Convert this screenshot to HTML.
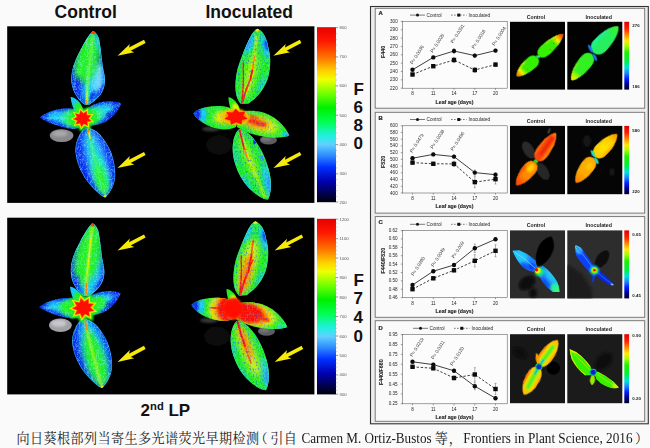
<!DOCTYPE html>
<html><head><meta charset="utf-8"><title>figure</title>
<style>html,body{margin:0;padding:0;background:#fafafa;overflow:hidden}svg{display:block}text{font-family:"Liberation Sans",sans-serif}.sf text{font-family:"Liberation Serif",serif}</style>
</head><body>
<svg width="650" height="448" viewBox="0 0 650 448">
<defs>
<linearGradient id="jet" x1="0" y1="0" x2="0" y2="1"><stop offset="0" stop-color="#e80000"/><stop offset="0.08" stop-color="#ff1800"/><stop offset="0.17" stop-color="#ff7000"/><stop offset="0.25" stop-color="#ffd000"/><stop offset="0.3" stop-color="#f0ff00"/><stop offset="0.38" stop-color="#70ff00"/><stop offset="0.46" stop-color="#00f000"/><stop offset="0.54" stop-color="#00ff50"/><stop offset="0.62" stop-color="#20f0e0"/><stop offset="0.67" stop-color="#60d0ff"/><stop offset="0.73" stop-color="#3090ff"/><stop offset="0.8" stop-color="#0030ff"/><stop offset="0.88" stop-color="#0000b0"/><stop offset="0.95" stop-color="#000050"/><stop offset="1" stop-color="#000008"/></linearGradient>
<linearGradient id="jet2" x1="0" y1="0" x2="0" y2="1"><stop offset="0" stop-color="#e00000"/><stop offset="0.1" stop-color="#ff2000"/><stop offset="0.2" stop-color="#ff9000"/><stop offset="0.28" stop-color="#ffe800"/><stop offset="0.36" stop-color="#a0ff00"/><stop offset="0.45" stop-color="#20f000"/><stop offset="0.58" stop-color="#00f040"/><stop offset="0.68" stop-color="#00e0e0"/><stop offset="0.76" stop-color="#2080ff"/><stop offset="0.84" stop-color="#0020ff"/><stop offset="0.92" stop-color="#000090"/><stop offset="1" stop-color="#000020"/></linearGradient>
<filter id="b1" x="-20%" y="-20%" width="140%" height="140%"><feGaussianBlur stdDeviation="1"/></filter>
<filter id="b2" x="-30%" y="-30%" width="160%" height="160%"><feGaussianBlur stdDeviation="2"/></filter>
<filter id="b3" x="-30%" y="-30%" width="160%" height="160%"><feGaussianBlur stdDeviation="3"/></filter>
<filter id="b4" x="-40%" y="-40%" width="180%" height="180%"><feGaussianBlur stdDeviation="4.5"/></filter>
<filter id="b05" x="-20%" y="-20%" width="140%" height="140%"><feGaussianBlur stdDeviation="0.5"/></filter>
<filter id="b07" x="-20%" y="-20%" width="140%" height="140%"><feGaussianBlur stdDeviation="0.7"/></filter>
<filter id="tex" x="0" y="0" width="100%" height="100%" color-interpolation-filters="sRGB"><feTurbulence type="turbulence" baseFrequency="0.42 0.3" numOctaves="2" seed="4"/><feColorMatrix type="matrix" values="0 0 0 0 0.6  0 0 0 0 0.95  0 0 0 0 1  -4.2 0 0 0 1.0"/></filter>
<filter id="tex2" x="0" y="0" width="100%" height="100%" color-interpolation-filters="sRGB"><feTurbulence type="fractalNoise" baseFrequency="0.6 0.45" numOctaves="2" seed="11"/><feColorMatrix type="matrix" values="0 0 0 0 0.1  0 0 0 0 0.35  0 0 0 0 1  0 3.4 0 0 -1.75"/></filter>
<clipPath id="cp1"><path d="M92.8 31C95 31.4 97.6 34.5 98.9 38.5C100.5 46 101.5 56 102.6 65C103.6 72 105.3 76 105 81C104.7 88 102 93.5 98 97.5C95 100.5 92 102.8 89.5 104.5L84.5 104.5C80.5 102 76.5 97 74 91.5C71.4 86 70.6 80 71.9 72C73.4 64 77 56 81 49C84.5 42.5 88.5 35 92.8 31Z"/></clipPath>
<clipPath id="cp2"><path d="M87.5 127.5C91 128.2 95 130 98.5 133C103 137.5 108 145 111 152C114 160 115.5 168 115.2 176C114.8 184 111 192 105.4 197.4C103.4 197.6 100 194.5 96 191C90 185.5 84.5 178.5 81 171C77 163 75 154 75.6 147C76.2 141 79 134.5 82.5 130.5C84 128.8 85.8 127.6 87.5 127.5Z"/></clipPath>
<clipPath id="cp3"><path d="M39.6 117.6C43 114.5 49 111.6 56 109.8C63 108 71 107.6 78 110L82 126C78 129.5 71 129.6 64 127.6C55 125.3 46 121.8 39.6 117.6Z"/></clipPath>
<clipPath id="cp4"><path d="M121.2 103.6C117 101 110 100.6 103 101.8C96 103 89 106.5 84 111L85 125C90 126.6 97 125.5 104 122.6C111 119.5 118 112 121.2 103.6Z"/></clipPath>
<clipPath id="cp5"><path d="M70.6 97C73 96.5 77 99 80 103C82 106 83.5 110 84 114L76 114C73.5 109 71 103 70.6 97Z"/></clipPath>
<clipPath id="cp6"><path d="M257.4 28.8C260 29.6 262.5 32 264.2 35C266.5 39.5 267.6 43 268.2 47C269.4 52 270.3 56 270.2 61C270.2 67 269.6 71 268.6 75.5C267.4 81 264.5 87 260 93C256.5 97.5 252 101 248.5 103.5L241 104C238.5 101.5 236.8 98 236 93.5C235 88 235.4 80 236.6 73.5C237.8 67 239.8 61.5 242 56C244.5 49.5 247.5 42.5 250.8 36C252.6 32.6 255 29.6 257.4 28.8Z"/></clipPath>
<clipPath id="cp7"><path d="M239.3 129C243 129.6 246.5 131.5 250 134.8C254 138.6 257.5 143.5 260.6 149C264 155 266.6 162 268.6 169C270.4 175.5 271.2 182 270.8 188C270.4 193 269.4 197 268 199.6C264.5 199.8 260.5 197.6 256.5 194.6C251.5 191 246.5 186 242.6 180C238.6 174 235.8 167 234 160C232.4 153.5 232.2 146.5 233.4 140.5C234.4 136 236.4 131 239.3 129Z"/></clipPath>
<clipPath id="cp8"><path d="M193.4 113.4C196 110.2 201 108.3 207 107C214 105.6 222 105.6 229 107.4L236.5 112L236 127C231 129.8 224 130 217 128.4C208 126.5 198.5 121.5 193.4 113.4Z"/></clipPath>
<clipPath id="cp9"><path d="M289.4 135.8C287.5 131 284 126 279 121.5C273 116 266 112.6 259 111.4C252 110.4 245 110.6 240 112L237 127C242 130.5 250 133.6 258 135.6C268 138 280 138.6 289.4 135.8Z"/></clipPath>
<clipPath id="cp10"><path d="M228.4 97.2C231 97 235 100 237.5 104C239.5 107 240 110 240 113L232 113C230 108 228.5 102 228.4 97.2Z"/></clipPath>
<clipPath id="cp11"><path d="M92.8 31C95 31.4 97.6 34.5 98.9 38.5C100.5 46 101.5 56 102.6 65C103.6 72 105.3 76 105 81C104.7 88 102 93.5 98 97.5C95 100.5 92 102.8 89.5 104.5L84.5 104.5C80.5 102 76.5 97 74 91.5C71.4 86 70.6 80 71.9 72C73.4 64 77 56 81 49C84.5 42.5 88.5 35 92.8 31Z"/></clipPath>
<clipPath id="cp12"><path d="M87.5 127.5C91 128.2 95 130 98.5 133C103 137.5 108 145 111 152C114 160 115.5 168 115.2 176C114.8 184 111 192 105.4 197.4C103.4 197.6 100 194.5 96 191C90 185.5 84.5 178.5 81 171C77 163 75 154 75.6 147C76.2 141 79 134.5 82.5 130.5C84 128.8 85.8 127.6 87.5 127.5Z"/></clipPath>
<clipPath id="cp13"><path d="M39.6 117.6C43 114.5 49 111.6 56 109.8C63 108 71 107.6 78 110L82 126C78 129.5 71 129.6 64 127.6C55 125.3 46 121.8 39.6 117.6Z"/></clipPath>
<clipPath id="cp14"><path d="M121.2 103.6C117 101 110 100.6 103 101.8C96 103 89 106.5 84 111L85 125C90 126.6 97 125.5 104 122.6C111 119.5 118 112 121.2 103.6Z"/></clipPath>
<clipPath id="cp15"><path d="M70.6 97C73 96.5 77 99 80 103C82 106 83.5 110 84 114L76 114C73.5 109 71 103 70.6 97Z"/></clipPath>
<clipPath id="cp16"><path d="M257.4 28.8C260 29.6 262.5 32 264.2 35C266.5 39.5 267.6 43 268.2 47C269.4 52 270.3 56 270.2 61C270.2 67 269.6 71 268.6 75.5C267.4 81 264.5 87 260 93C256.5 97.5 252 101 248.5 103.5L241 104C238.5 101.5 236.8 98 236 93.5C235 88 235.4 80 236.6 73.5C237.8 67 239.8 61.5 242 56C244.5 49.5 247.5 42.5 250.8 36C252.6 32.6 255 29.6 257.4 28.8Z"/></clipPath>
<clipPath id="cp17"><path d="M239.3 129C243 129.6 246.5 131.5 250 134.8C254 138.6 257.5 143.5 260.6 149C264 155 266.6 162 268.6 169C270.4 175.5 271.2 182 270.8 188C270.4 193 269.4 197 268 199.6C264.5 199.8 260.5 197.6 256.5 194.6C251.5 191 246.5 186 242.6 180C238.6 174 235.8 167 234 160C232.4 153.5 232.2 146.5 233.4 140.5C234.4 136 236.4 131 239.3 129Z"/></clipPath>
<clipPath id="cp18"><path d="M193.4 113.4C196 110.2 201 108.3 207 107C214 105.6 222 105.6 229 107.4L236.5 112L236 127C231 129.8 224 130 217 128.4C208 126.5 198.5 121.5 193.4 113.4Z"/></clipPath>
<clipPath id="cp19"><path d="M289.4 135.8C287.5 131 284 126 279 121.5C273 116 266 112.6 259 111.4C252 110.4 245 110.6 240 112L237 127C242 130.5 250 133.6 258 135.6C268 138 280 138.6 289.4 135.8Z"/></clipPath>
<clipPath id="cp20"><path d="M228.4 97.2C231 97 235 100 237.5 104C239.5 107 240 110 240 113L232 113C230 108 228.5 102 228.4 97.2Z"/></clipPath>
<linearGradient id="lg21" gradientUnits="userSpaceOnUse" x1="19.9709" y1="0" x2="33.2848" y2="0"><stop offset="0" stop-color="#f4f000" stop-opacity="0"/><stop offset="0.35" stop-color="#f4f000" stop-opacity="1"/><stop offset="0.65" stop-color="#ff8000" stop-opacity="1"/><stop offset="1" stop-color="#ff1000" stop-opacity="1"/></linearGradient>
<clipPath id="cp22"><path d="M0 0C0.67 4.43 4.49 5.90 9.99 5.90C21.64 5.90 30.95 2.66 33.28 0.00C30.95 -2.66 21.64 -5.90 9.99 -5.90C4.49 -5.90 0.67 -4.43 0 0Z"/></clipPath>
<linearGradient id="lg23" gradientUnits="userSpaceOnUse" x1="17.4752" y1="0" x2="28.1858" y2="0"><stop offset="0" stop-color="#f4f000" stop-opacity="0"/><stop offset="0.4" stop-color="#f4f000" stop-opacity="1"/><stop offset="0.8" stop-color="#ff8000" stop-opacity="1"/><stop offset="1" stop-color="#ff5000" stop-opacity="1"/></linearGradient>
<clipPath id="cp24"><path d="M0 0C0.56 4.72 3.81 6.30 8.46 6.30C18.32 6.30 26.21 3.15 28.19 0.00C26.21 -3.15 18.32 -6.30 8.46 -6.30C3.81 -6.30 0.56 -4.72 0 0Z"/></clipPath>
<clipPath id="bx25"><rect x="510" y="21.8" width="55" height="67.8"/></clipPath>
<linearGradient id="lg26" gradientUnits="userSpaceOnUse" x1="23.539" y1="0" x2="36.2138" y2="0"><stop offset="0" stop-color="#34f000" stop-opacity="0"/><stop offset="1" stop-color="#48f030" stop-opacity="0.9"/></linearGradient>
<clipPath id="cp27"><path d="M0 0C0.72 6.40 5.21 8.00 11.59 8.00C23.90 8.00 33.68 4.00 36.21 0.00C33.68 -4.00 23.90 -8.00 11.59 -8.00C5.21 -8.00 0.72 -6.40 0 0Z"/></clipPath>
<linearGradient id="lg28" gradientUnits="userSpaceOnUse" x1="22.5797" y1="0" x2="33.2054" y2="0"><stop offset="0" stop-color="#f4f000" stop-opacity="0"/><stop offset="0.6" stop-color="#c8f400" stop-opacity="1"/><stop offset="1" stop-color="#f4f000" stop-opacity="1"/></linearGradient>
<clipPath id="cp29"><path d="M0 0C0.66 5.52 4.78 6.90 10.63 6.90C21.92 6.90 30.88 3.45 33.21 0.00C30.88 -3.45 21.92 -6.90 10.63 -6.90C4.78 -6.90 0.66 -5.52 0 0Z"/></clipPath>
<clipPath id="cp30"><path d="M0 0C0.20 0.00 2.29 1.50 5.10 1.50C7.65 1.50 9.49 0.52 10.20 0.00C9.49 -0.52 7.65 -1.50 5.10 -1.50C2.29 -1.50 0.20 -0.00 0 0Z"/></clipPath>
<clipPath id="cp31"><path d="M0 0C0.18 0.00 2.03 1.50 4.52 1.50C6.78 1.50 8.40 0.52 9.04 0.00C8.40 -0.52 6.78 -1.50 4.52 -1.50C2.03 -1.50 0.18 -0.00 0 0Z"/></clipPath>
<clipPath id="bx32"><rect x="567.3" y="21.8" width="55" height="67.8"/></clipPath>
<linearGradient id="lg33" gradientUnits="userSpaceOnUse" x1="27.6635" y1="0" x2="33.736" y2="0"><stop offset="0" stop-color="#ff8000" stop-opacity="0"/><stop offset="1" stop-color="#ffa000" stop-opacity="1"/></linearGradient>
<clipPath id="cp34"><path d="M0 0C0.67 5.20 5.47 6.50 12.14 6.50C22.94 6.50 31.37 3.58 33.74 0.00C31.37 -3.58 22.94 -6.50 12.14 -6.50C5.47 -6.50 0.67 -5.20 0 0Z"/></clipPath>
<linearGradient id="lg35" gradientUnits="userSpaceOnUse" x1="17.8997" y1="0" x2="29.8329" y2="0"><stop offset="0" stop-color="#ff1000" stop-opacity="0"/><stop offset="1" stop-color="#ff4000" stop-opacity="0.9"/></linearGradient>
<clipPath id="cp36"><path d="M0 0C0.60 5.10 4.30 6.80 9.55 6.80C19.69 6.80 27.74 3.40 29.83 0.00C27.74 -3.40 19.69 -6.80 9.55 -6.80C4.30 -6.80 0.60 -5.10 0 0Z"/></clipPath>
<clipPath id="bx37"><rect x="510" y="125.9" width="55" height="68.3"/></clipPath>
<linearGradient id="lg38" gradientUnits="userSpaceOnUse" x1="22.0761" y1="0" x2="31.5373" y2="0"><stop offset="0" stop-color="#ff8000" stop-opacity="0"/><stop offset="1" stop-color="#ff9800" stop-opacity="1"/></linearGradient>
<clipPath id="cp39"><path d="M0 0C0.63 5.60 4.68 7.00 10.41 7.00C20.97 7.00 29.33 3.50 31.54 0.00C29.33 -3.50 20.97 -7.00 10.41 -7.00C4.68 -7.00 0.63 -5.60 0 0Z"/></clipPath>
<linearGradient id="lg40" gradientUnits="userSpaceOnUse" x1="18.2187" y1="0" x2="30.3645" y2="0"><stop offset="0" stop-color="#ff8000" stop-opacity="0"/><stop offset="1" stop-color="#ff7800" stop-opacity="1"/></linearGradient>
<clipPath id="cp41"><path d="M0 0C0.61 5.52 4.51 6.90 10.02 6.90C20.19 6.90 28.24 3.45 30.36 0.00C28.24 -3.45 20.19 -6.90 10.02 -6.90C4.51 -6.90 0.61 -5.52 0 0Z"/></clipPath>
<clipPath id="cp42"><path d="M0 0C0.17 0.00 1.87 1.60 4.16 1.60C6.24 1.60 7.74 0.56 8.32 0.00C7.74 -0.56 6.24 -1.60 4.16 -1.60C1.87 -1.60 0.17 -0.00 0 0Z"/></clipPath>
<clipPath id="cp43"><path d="M0 0C0.16 0.00 1.85 1.60 4.12 1.60C6.18 1.60 7.66 0.56 8.24 0.00C7.66 -0.56 6.18 -1.60 4.12 -1.60C1.85 -1.60 0.16 -0.00 0 0Z"/></clipPath>
<clipPath id="bx44"><rect x="567.3" y="125.9" width="55" height="68.3"/></clipPath>
<clipPath id="cp45"><path d="M0 0C0.65 3.04 8.04 7.60 17.87 7.60C25.18 7.60 30.22 3.80 32.49 0.00C30.22 -3.80 25.18 -7.60 17.87 -7.60C8.04 -7.60 0.65 -3.04 0 0Z"/></clipPath>
<clipPath id="cp46"><path d="M512.3 250.4L519.5 250.2Q528 253.5 535.6 260.5L537.4 268L534.3 271.6Q529 272.6 522.2 266.6Q516.5 260.5 512.3 250.4Z"/></clipPath>
<clipPath id="cp47"><path d="M536.6 269L542.7 265.5Q551 271.5 557.2 281.7Q559.4 286 559.7 291.9L552.6 291.9Q545.5 287.5 539.4 277.1Z"/></clipPath>
<clipPath id="bx48"><rect x="510" y="230.4" width="55" height="68"/></clipPath>
<clipPath id="cp49"><path d="M0 0C0.42 2.16 4.76 5.40 10.57 5.40C15.85 5.40 19.66 3.24 21.14 0.00C19.66 -3.24 15.85 -5.40 10.57 -5.40C4.76 -5.40 0.42 -2.16 0 0Z"/></clipPath>
<clipPath id="cp50"><path d="M575.3 245L580.7 247.2Q587 254.5 593.2 265L594.6 270.3L590 272.2Q582 265.5 576 255.8Q574.8 250 575.3 245Z"/></clipPath>
<clipPath id="cp51"><path d="M594.6 270L599.7 270.5Q608 276.5 615.2 285.7Q609 285.7 605 282.8Q600 279.2 596.4 275.2Z"/></clipPath>
<clipPath id="cp52"><path d="M0 0C0.25 0.00 2.25 1.40 5.00 1.40C8.75 1.40 11.63 0.49 12.50 0.00C11.63 -0.49 8.75 -1.40 5.00 -1.40C2.25 -1.40 0.25 -0.00 0 0Z"/></clipPath>
<clipPath id="bx53"><rect x="567.3" y="230.4" width="55" height="68"/></clipPath>
<clipPath id="cp54"><path d="M0 0C0.64 5.10 5.75 6.80 12.79 6.80C22.38 6.80 29.73 3.74 31.97 0.00C29.73 -3.74 22.38 -6.80 12.79 -6.80C5.75 -6.80 0.64 -5.10 0 0Z"/></clipPath>
<clipPath id="cp55"><path d="M0 0C0.62 5.40 5.57 7.20 12.38 7.20C21.67 7.20 28.79 3.96 30.95 0.00C28.79 -3.96 21.67 -7.20 12.38 -7.20C5.57 -7.20 0.62 -5.40 0 0Z"/></clipPath>
<clipPath id="cp56"><path d="M0 0C0.25 0.00 2.79 1.80 6.20 1.80C9.30 1.80 11.53 0.63 12.40 0.00C11.53 -0.63 9.30 -1.80 6.20 -1.80C2.79 -1.80 0.25 -0.00 0 0Z"/></clipPath>
<clipPath id="bx57"><rect x="510" y="334.2" width="55" height="69"/></clipPath>
<clipPath id="cp58"><path d="M0 0C0.47 0.00 5.25 7.00 11.67 7.00C17.50 7.00 21.70 4.20 23.33 0.00C21.70 -4.20 17.50 -7.00 11.67 -7.00C5.25 -7.00 0.47 -0.00 0 0Z"/></clipPath>
<clipPath id="cp59"><path d="M569.6 349L576.1 351.9Q584 357.4 590.6 366.4L593.2 372L589.8 375.5L585.2 375.5Q577 369.6 571.5 359.1Q569.9 354 569.6 349Z"/></clipPath>
<clipPath id="cp60"><path d="M593.6 372.4L597.4 371.5Q607 376 614.2 382.3L619 387.5Q615 388.8 611.1 388.3Q602.5 386.2 596.4 379.6Z"/></clipPath>
<clipPath id="cp61"><path d="M0 0C0.22 0.00 2.78 2.40 6.18 2.40C8.71 2.40 10.46 0.84 11.24 0.00C10.46 -0.84 8.71 -2.40 6.18 -2.40C2.78 -2.40 0.22 -0.00 0 0Z"/></clipPath>
<clipPath id="bx62"><rect x="567.3" y="334.2" width="55" height="69"/></clipPath>
</defs>
<rect x="0" y="0" width="650" height="448" fill="#fafafa"/>
<g font-family="Liberation Sans" font-weight="bold" fill="#111">
<text x="85.7" y="17.9" font-size="17.5" text-anchor="middle">Control</text>
<text x="249.2" y="17.9" font-size="17.5" text-anchor="middle">Inoculated</text>
<text x="140.6" y="416.2" font-size="17">2<tspan font-size="11.2" dy="-6">nd</tspan><tspan dy="6"> LP</tspan></text>
<text x="353.6" y="95" font-size="17">F</text>
<text x="353.6" y="113" font-size="17">6</text>
<text x="353.6" y="131" font-size="17">8</text>
<text x="353.6" y="149" font-size="17">0</text>
<text x="353.6" y="285.7" font-size="17">F</text>
<text x="353.6" y="304.3" font-size="17">7</text>
<text x="353.6" y="322.9" font-size="17">4</text>
<text x="353.6" y="341.5" font-size="17">0</text>
</g>
<rect x="7.2" y="26.3" width="307.2" height="176.6" fill="#000"/>
<rect x="7.2" y="217.7" width="307.2" height="176.7" fill="#000"/>
<rect x="317" y="27.2" width="19" height="175" fill="url(#jet)"/>
<g font-family="Liberation Sans" font-size="4.2" fill="#555" opacity="0.995">
<line x1="335.5" y1="27.6" x2="338.2" y2="27.6" stroke="#555" stroke-width="0.6"/>
<text x="339.6" y="29.1">800</text>
<line x1="335.5" y1="56.9" x2="338.2" y2="56.9" stroke="#555" stroke-width="0.6"/>
<text x="339.6" y="58.4">700</text>
<line x1="335.5" y1="85.9" x2="338.2" y2="85.9" stroke="#555" stroke-width="0.6"/>
<text x="339.6" y="87.4">600</text>
<line x1="335.5" y1="115.2" x2="338.2" y2="115.2" stroke="#555" stroke-width="0.6"/>
<text x="339.6" y="116.7">500</text>
<line x1="335.5" y1="144.6" x2="338.2" y2="144.6" stroke="#555" stroke-width="0.6"/>
<text x="339.6" y="146.1">400</text>
<line x1="335.5" y1="173.8" x2="338.2" y2="173.8" stroke="#555" stroke-width="0.6"/>
<text x="339.6" y="175.3">300</text>
<line x1="335.5" y1="202" x2="338.2" y2="202" stroke="#555" stroke-width="0.6"/>
<text x="339.6" y="203.5">200</text>
<line x1="335.5" y1="33.46" x2="337.2" y2="33.46" stroke="#888" stroke-width="0.4"/>
<line x1="335.5" y1="39.32" x2="337.2" y2="39.32" stroke="#888" stroke-width="0.4"/>
<line x1="335.5" y1="45.18" x2="337.2" y2="45.18" stroke="#888" stroke-width="0.4"/>
<line x1="335.5" y1="51.04" x2="337.2" y2="51.04" stroke="#888" stroke-width="0.4"/>
<line x1="335.5" y1="62.7" x2="337.2" y2="62.7" stroke="#888" stroke-width="0.4"/>
<line x1="335.5" y1="68.5" x2="337.2" y2="68.5" stroke="#888" stroke-width="0.4"/>
<line x1="335.5" y1="74.3" x2="337.2" y2="74.3" stroke="#888" stroke-width="0.4"/>
<line x1="335.5" y1="80.1" x2="337.2" y2="80.1" stroke="#888" stroke-width="0.4"/>
<line x1="335.5" y1="91.76" x2="337.2" y2="91.76" stroke="#888" stroke-width="0.4"/>
<line x1="335.5" y1="97.62" x2="337.2" y2="97.62" stroke="#888" stroke-width="0.4"/>
<line x1="335.5" y1="103.48" x2="337.2" y2="103.48" stroke="#888" stroke-width="0.4"/>
<line x1="335.5" y1="109.34" x2="337.2" y2="109.34" stroke="#888" stroke-width="0.4"/>
<line x1="335.5" y1="121.08" x2="337.2" y2="121.08" stroke="#888" stroke-width="0.4"/>
<line x1="335.5" y1="126.96" x2="337.2" y2="126.96" stroke="#888" stroke-width="0.4"/>
<line x1="335.5" y1="132.84" x2="337.2" y2="132.84" stroke="#888" stroke-width="0.4"/>
<line x1="335.5" y1="138.72" x2="337.2" y2="138.72" stroke="#888" stroke-width="0.4"/>
<line x1="335.5" y1="150.44" x2="337.2" y2="150.44" stroke="#888" stroke-width="0.4"/>
<line x1="335.5" y1="156.28" x2="337.2" y2="156.28" stroke="#888" stroke-width="0.4"/>
<line x1="335.5" y1="162.12" x2="337.2" y2="162.12" stroke="#888" stroke-width="0.4"/>
<line x1="335.5" y1="167.96" x2="337.2" y2="167.96" stroke="#888" stroke-width="0.4"/>
<line x1="335.5" y1="179.44" x2="337.2" y2="179.44" stroke="#888" stroke-width="0.4"/>
<line x1="335.5" y1="185.08" x2="337.2" y2="185.08" stroke="#888" stroke-width="0.4"/>
<line x1="335.5" y1="190.72" x2="337.2" y2="190.72" stroke="#888" stroke-width="0.4"/>
<line x1="335.5" y1="196.36" x2="337.2" y2="196.36" stroke="#888" stroke-width="0.4"/>
</g>
<rect x="317" y="218.8" width="19" height="175.6" fill="url(#jet)"/>
<g font-family="Liberation Sans" font-size="4.2" fill="#555" opacity="0.995">
<line x1="335.5" y1="219.2" x2="338.2" y2="219.2" stroke="#555" stroke-width="0.6"/>
<text x="339.6" y="220.7">1200</text>
<line x1="335.5" y1="238.7" x2="338.2" y2="238.7" stroke="#555" stroke-width="0.6"/>
<text x="339.6" y="240.2">1100</text>
<line x1="335.5" y1="258.1" x2="338.2" y2="258.1" stroke="#555" stroke-width="0.6"/>
<text x="339.6" y="259.6">1000</text>
<line x1="335.5" y1="277.6" x2="338.2" y2="277.6" stroke="#555" stroke-width="0.6"/>
<text x="339.6" y="279.1">900</text>
<line x1="335.5" y1="297" x2="338.2" y2="297" stroke="#555" stroke-width="0.6"/>
<text x="339.6" y="298.5">800</text>
<line x1="335.5" y1="316.5" x2="338.2" y2="316.5" stroke="#555" stroke-width="0.6"/>
<text x="339.6" y="318">700</text>
<line x1="335.5" y1="336" x2="338.2" y2="336" stroke="#555" stroke-width="0.6"/>
<text x="339.6" y="337.5">600</text>
<line x1="335.5" y1="355.4" x2="338.2" y2="355.4" stroke="#555" stroke-width="0.6"/>
<text x="339.6" y="356.9">500</text>
<line x1="335.5" y1="374.9" x2="338.2" y2="374.9" stroke="#555" stroke-width="0.6"/>
<text x="339.6" y="376.4">400</text>
<line x1="335.5" y1="394.2" x2="338.2" y2="394.2" stroke="#555" stroke-width="0.6"/>
<text x="339.6" y="395.7">300</text>
<line x1="335.5" y1="223.1" x2="337.2" y2="223.1" stroke="#888" stroke-width="0.4"/>
<line x1="335.5" y1="227" x2="337.2" y2="227" stroke="#888" stroke-width="0.4"/>
<line x1="335.5" y1="230.9" x2="337.2" y2="230.9" stroke="#888" stroke-width="0.4"/>
<line x1="335.5" y1="234.8" x2="337.2" y2="234.8" stroke="#888" stroke-width="0.4"/>
<line x1="335.5" y1="242.58" x2="337.2" y2="242.58" stroke="#888" stroke-width="0.4"/>
<line x1="335.5" y1="246.46" x2="337.2" y2="246.46" stroke="#888" stroke-width="0.4"/>
<line x1="335.5" y1="250.34" x2="337.2" y2="250.34" stroke="#888" stroke-width="0.4"/>
<line x1="335.5" y1="254.22" x2="337.2" y2="254.22" stroke="#888" stroke-width="0.4"/>
<line x1="335.5" y1="262" x2="337.2" y2="262" stroke="#888" stroke-width="0.4"/>
<line x1="335.5" y1="265.9" x2="337.2" y2="265.9" stroke="#888" stroke-width="0.4"/>
<line x1="335.5" y1="269.8" x2="337.2" y2="269.8" stroke="#888" stroke-width="0.4"/>
<line x1="335.5" y1="273.7" x2="337.2" y2="273.7" stroke="#888" stroke-width="0.4"/>
<line x1="335.5" y1="281.48" x2="337.2" y2="281.48" stroke="#888" stroke-width="0.4"/>
<line x1="335.5" y1="285.36" x2="337.2" y2="285.36" stroke="#888" stroke-width="0.4"/>
<line x1="335.5" y1="289.24" x2="337.2" y2="289.24" stroke="#888" stroke-width="0.4"/>
<line x1="335.5" y1="293.12" x2="337.2" y2="293.12" stroke="#888" stroke-width="0.4"/>
<line x1="335.5" y1="300.9" x2="337.2" y2="300.9" stroke="#888" stroke-width="0.4"/>
<line x1="335.5" y1="304.8" x2="337.2" y2="304.8" stroke="#888" stroke-width="0.4"/>
<line x1="335.5" y1="308.7" x2="337.2" y2="308.7" stroke="#888" stroke-width="0.4"/>
<line x1="335.5" y1="312.6" x2="337.2" y2="312.6" stroke="#888" stroke-width="0.4"/>
<line x1="335.5" y1="320.4" x2="337.2" y2="320.4" stroke="#888" stroke-width="0.4"/>
<line x1="335.5" y1="324.3" x2="337.2" y2="324.3" stroke="#888" stroke-width="0.4"/>
<line x1="335.5" y1="328.2" x2="337.2" y2="328.2" stroke="#888" stroke-width="0.4"/>
<line x1="335.5" y1="332.1" x2="337.2" y2="332.1" stroke="#888" stroke-width="0.4"/>
<line x1="335.5" y1="339.88" x2="337.2" y2="339.88" stroke="#888" stroke-width="0.4"/>
<line x1="335.5" y1="343.76" x2="337.2" y2="343.76" stroke="#888" stroke-width="0.4"/>
<line x1="335.5" y1="347.64" x2="337.2" y2="347.64" stroke="#888" stroke-width="0.4"/>
<line x1="335.5" y1="351.52" x2="337.2" y2="351.52" stroke="#888" stroke-width="0.4"/>
<line x1="335.5" y1="359.3" x2="337.2" y2="359.3" stroke="#888" stroke-width="0.4"/>
<line x1="335.5" y1="363.2" x2="337.2" y2="363.2" stroke="#888" stroke-width="0.4"/>
<line x1="335.5" y1="367.1" x2="337.2" y2="367.1" stroke="#888" stroke-width="0.4"/>
<line x1="335.5" y1="371" x2="337.2" y2="371" stroke="#888" stroke-width="0.4"/>
<line x1="335.5" y1="378.76" x2="337.2" y2="378.76" stroke="#888" stroke-width="0.4"/>
<line x1="335.5" y1="382.62" x2="337.2" y2="382.62" stroke="#888" stroke-width="0.4"/>
<line x1="335.5" y1="386.48" x2="337.2" y2="386.48" stroke="#888" stroke-width="0.4"/>
<line x1="335.5" y1="390.34" x2="337.2" y2="390.34" stroke="#888" stroke-width="0.4"/>
</g>
<ellipse cx="61.6" cy="135.6" rx="11.8" ry="6.4" fill="#8a8a8e" filter="url(#b05)"/><ellipse cx="60" cy="133.6" rx="7.5" ry="3" fill="#a8a8ac" filter="url(#b1)"/><g clip-path="url(#cp1)" ><rect x="60" y="25" width="60" height="90" fill="#0a2cf0"/><ellipse cx="92" cy="84" rx="10" ry="22" fill="#18c8f8" transform="rotate(6 92 84)" filter="url(#b3)"/><ellipse cx="98" cy="78" rx="5" ry="15" fill="#7ad8ff" transform="rotate(4 98 78)" filter="url(#b2)" opacity="0.9"/><ellipse cx="88" cy="56" rx="12" ry="26" fill="#20f020" transform="rotate(12 88 56)" filter="url(#b3)"/><ellipse cx="84" cy="68" rx="7" ry="16" fill="#20f020" transform="rotate(14 84 68)" filter="url(#b2)"/><ellipse cx="98" cy="42" rx="3" ry="10" fill="#18c8f8" transform="rotate(-10 98 42)" filter="url(#b2)" opacity="0.8"/><ellipse cx="76" cy="88" rx="4.2" ry="11" fill="#0a2cf0" transform="rotate(18 76 88)" filter="url(#b2)"/><ellipse cx="101" cy="94" rx="4" ry="9" fill="#0a2cf0" transform="rotate(30 101 94)" filter="url(#b2)"/><ellipse cx="92" cy="97" rx="2.5" ry="7" fill="#0a2cf0" transform="rotate(20 92 97)" filter="url(#b1)" opacity="0.9"/><polyline points="89.4,66 87.6,86 86.6,103" fill="none" stroke="#30f060" stroke-width="4.2" stroke-linecap="round" stroke-linejoin="round" filter="url(#b1)" opacity="0.9"/><polyline points="93,35 90,60 87.5,85 86.5,104" fill="none" stroke="#8cf850" stroke-width="1.7" stroke-linecap="round" stroke-linejoin="round" filter="url(#b1)" opacity="0.95"/><polyline points="87.2,92 86.6,105" fill="none" stroke="#d8f020" stroke-width="1.2" stroke-linecap="round" stroke-linejoin="round" filter="url(#b07)"/><polyline points="86.8,101 86.6,106" fill="none" stroke="#ff8000" stroke-width="1.4" stroke-linecap="round" stroke-linejoin="round" filter="url(#b05)"/><rect x="60" y="25" width="60" height="90" filter="url(#tex)" opacity="0.5"/><path d="M92.8 31C95 31.4 97.6 34.5 98.9 38.5C100.5 46 101.5 56 102.6 65C103.6 72 105.3 76 105 81C104.7 88 102 93.5 98 97.5C95 100.5 92 102.8 89.5 104.5L84.5 104.5C80.5 102 76.5 97 74 91.5C71.4 86 70.6 80 71.9 72C73.4 64 77 56 81 49C84.5 42.5 88.5 35 92.8 31Z" fill="none" stroke="#40e8f0" stroke-width="1.1" opacity="0.75" filter="url(#b05)"/><ellipse cx="93" cy="32.4" rx="2.2" ry="1.7" fill="#ff4000" filter="url(#b05)"/></g><g transform="translate(0,0)"><g clip-path="url(#cp2)" ><rect x="70" y="120" width="55" height="85" fill="#0a2cf0"/><ellipse cx="97" cy="160" rx="10" ry="32" fill="#3c8cff" transform="rotate(-16 97 160)" filter="url(#b3)" opacity="0.95"/><ellipse cx="96" cy="160" rx="7" ry="30" fill="#18c8f8" transform="rotate(-17 96 160)" filter="url(#b3)"/><ellipse cx="100" cy="174" rx="7.5" ry="20" fill="#20f0a0" transform="rotate(-17 100 174)" filter="url(#b2)" opacity="0.95"/><ellipse cx="101" cy="180" rx="5" ry="15" fill="#20f020" transform="rotate(-17 101 180)" filter="url(#b2)" opacity="0.95"/><ellipse cx="93" cy="150" rx="3" ry="12" fill="#20f0a0" transform="rotate(-17 93 150)" filter="url(#b2)" opacity="0.8"/><polyline points="88,129 92,148 98,170 104.5,195" fill="none" stroke="#50f060" stroke-width="1.7" stroke-linecap="round" stroke-linejoin="round" filter="url(#b1)" opacity="0.95"/><polyline points="88,128 90,138" fill="none" stroke="#f4f000" stroke-width="1.6" stroke-linecap="round" stroke-linejoin="round" filter="url(#b07)"/><polyline points="87.8,127 88.6,132" fill="none" stroke="#ff8000" stroke-width="1.6" stroke-linecap="round" stroke-linejoin="round" filter="url(#b05)"/><rect x="70" y="120" width="55" height="85" filter="url(#tex)" opacity="0.5"/><path d="M87.5 127.5C91 128.2 95 130 98.5 133C103 137.5 108 145 111 152C114 160 115.5 168 115.2 176C114.8 184 111 192 105.4 197.4C103.4 197.6 100 194.5 96 191C90 185.5 84.5 178.5 81 171C77 163 75 154 75.6 147C76.2 141 79 134.5 82.5 130.5C84 128.8 85.8 127.6 87.5 127.5Z" fill="none" stroke="#40e8f0" stroke-width="1.1" opacity="0.7" filter="url(#b05)"/><ellipse cx="105.2" cy="196.4" rx="1.6" ry="1.4" fill="#e8e000" filter="url(#b05)"/></g></g><g transform="translate(0,0)"><g clip-path="url(#cp3)" ><rect x="35" y="100" width="50" height="32" fill="#0a2cf0"/><ellipse cx="60" cy="117" rx="13" ry="5.5" fill="#18c8f8" transform="rotate(8 60 117)" filter="url(#b2)"/><ellipse cx="70" cy="118" rx="9" ry="8" fill="#20f0a0" filter="url(#b2)"/><ellipse cx="74" cy="118.5" rx="8" ry="8" fill="#20f020" filter="url(#b2)"/><polyline points="44,118 60,117.5 74,118.5" fill="none" stroke="#50f0e0" stroke-width="1.3" stroke-linecap="round" stroke-linejoin="round" filter="url(#b1)" opacity="0.9"/><rect x="35" y="100" width="50" height="32" filter="url(#tex)" opacity="0.45"/></g><g clip-path="url(#cp4)" ><rect x="80" y="98" width="45" height="32" fill="#0a2cf0"/><ellipse cx="102" cy="111" rx="11" ry="6.5" fill="#18c8f8" transform="rotate(-22 102 111)" filter="url(#b2)"/><ellipse cx="95" cy="115" rx="9" ry="8" fill="#20f0a0" transform="rotate(-15 95 115)" filter="url(#b2)"/><ellipse cx="91" cy="117" rx="8" ry="8" fill="#20f020" filter="url(#b2)"/><polyline points="88,117 102,111.5 118,105" fill="none" stroke="#50f0c0" stroke-width="1.3" stroke-linecap="round" stroke-linejoin="round" filter="url(#b1)" opacity="0.9"/><ellipse cx="108.5" cy="115" rx="2.2" ry="2.6" fill="#0818c0" filter="url(#b1)"/><rect x="80" y="98" width="45" height="32" filter="url(#tex)" opacity="0.45"/></g><g clip-path="url(#cp5)" ><rect x="65" y="92" width="25" height="25" fill="#18c8f8"/><ellipse cx="79" cy="108" rx="4" ry="6" fill="#20f020" transform="rotate(-30 79 108)" filter="url(#b1)"/><ellipse cx="81" cy="112" rx="3" ry="4" fill="#f4f000" transform="rotate(-30 81 112)" filter="url(#b1)"/></g><polygon points="96.7,122.6 90.8,124.3 90.6,129.9 84.9,127.7 80.8,131.9 77.9,126.9 71.8,127.7 73.1,122.2 67.9,119.3 72.7,115.8 70.9,110.5 77.0,110.7 79.3,105.5 83.9,109.3 89.3,106.7 90.2,112.2 96.2,113.4 92.9,118.1" fill="#20f020" filter="url(#b1)"/><polygon points="94.2,121.9 88.6,122.7 89.2,127.8 84.3,125.3 81.1,129.5 79.2,124.7 73.7,126.1 75.7,121.2 70.5,119.1 75.4,116.6 73.0,112.0 78.5,112.9 79.9,107.9 83.5,111.8 88.1,108.8 88.1,114.0 93.8,114.3 90.1,118.3" fill="#f4f000" filter="url(#b07)"/><polygon points="92.5,121.4 87.7,122.1 88.2,126.5 84.0,124.3 81.3,127.9 79.7,123.8 75.0,125.0 76.7,120.9 72.3,119.1 76.5,116.9 74.4,112.9 79.1,113.7 80.3,109.4 83.4,112.8 87.3,110.2 87.3,114.6 92.1,115.0 89.0,118.3" fill="#ff8000" filter="url(#b05)"/><polygon points="91.1,121.0 87.0,121.6 87.4,125.4 83.8,123.5 81.5,126.6 80.1,123.1 76.1,124.1 77.5,120.5 73.7,119.0 77.3,117.1 75.5,113.7 79.6,114.4 80.6,110.7 83.3,113.6 86.7,111.4 86.7,115.2 90.8,115.5 88.1,118.4" fill="#ff1000" filter="url(#b05)"/></g><ellipse cx="219" cy="145" rx="13" ry="10" fill="#0a0a0a" filter="url(#b2)"/><ellipse cx="268.5" cy="140" rx="8.5" ry="4.6" fill="#5c5c62" filter="url(#b07)"/><ellipse cx="266" cy="139" rx="5" ry="2" fill="#77777c" filter="url(#b1)"/><ellipse cx="211" cy="129" rx="9" ry="2.6" fill="#343436" filter="url(#b1)"/><g clip-path="url(#cp6)" ><rect x="228" y="24" width="48" height="86" fill="#20f020"/><ellipse cx="249" cy="44" rx="5" ry="11" fill="#18c8f8" transform="rotate(25 249 44)" filter="url(#b2)"/><ellipse cx="248" cy="43" rx="2.6" ry="6" fill="#3c8cff" transform="rotate(25 248 43)" filter="url(#b1)" opacity="0.95"/><ellipse cx="266" cy="46" rx="4.5" ry="13" fill="#18c8f8" transform="rotate(-10 266 46)" filter="url(#b2)"/><ellipse cx="267" cy="45" rx="2.2" ry="5.5" fill="#0a2cf0" transform="rotate(-12 267 45)" filter="url(#b1)"/><ellipse cx="262" cy="84" rx="3.5" ry="9" fill="#18c8f8" transform="rotate(30 262 84)" filter="url(#b2)" opacity="0.6"/><ellipse cx="250" cy="76" rx="5.5" ry="22" fill="#b8f400" transform="rotate(14 250 76)" filter="url(#b3)" opacity="0.95"/><polyline points="256.8,36 254,60 250.7,78 245,94" fill="none" stroke="#f4f000" stroke-width="2.2" stroke-linecap="round" stroke-linejoin="round" filter="url(#b1)" opacity="0.95"/><polyline points="254.6,56 253,66 250.7,78" fill="none" stroke="#ff8000" stroke-width="1.5" stroke-linecap="round" stroke-linejoin="round" filter="url(#b05)" opacity="0.95"/><polyline points="241.6,106 245,93 250.7,78 252.4,70" fill="none" stroke="#ff1000" stroke-width="1.7" stroke-linecap="round" stroke-linejoin="round" filter="url(#b05)"/><polyline points="241.8,105 243,90 243.6,76 243.2,63" fill="none" stroke="#ff1000" stroke-width="1.5" stroke-linecap="round" stroke-linejoin="round" filter="url(#b05)"/><polyline points="246,90 248.5,84" fill="none" stroke="#ff3000" stroke-width="1.2" stroke-linecap="round" stroke-linejoin="round" filter="url(#b05)"/><rect x="228" y="24" width="48" height="86" filter="url(#tex)" opacity="0.32"/><rect x="228" y="24" width="48" height="86" filter="url(#tex2)" opacity="0.55"/><path d="M257.4 28.8C260 29.6 262.5 32 264.2 35C266.5 39.5 267.6 43 268.2 47C269.4 52 270.3 56 270.2 61C270.2 67 269.6 71 268.6 75.5C267.4 81 264.5 87 260 93C256.5 97.5 252 101 248.5 103.5L241 104C238.5 101.5 236.8 98 236 93.5C235 88 235.4 80 236.6 73.5C237.8 67 239.8 61.5 242 56C244.5 49.5 247.5 42.5 250.8 36C252.6 32.6 255 29.6 257.4 28.8Z" fill="none" stroke="#30f0c0" stroke-width="1" opacity="0.6" filter="url(#b05)"/><ellipse cx="257.4" cy="30" rx="2" ry="1.6" fill="#d8f020" filter="url(#b05)"/></g><g clip-path="url(#cp7)" ><rect x="228" y="125" width="50" height="80" fill="#20f020"/><ellipse cx="267" cy="180" rx="3.8" ry="17" fill="#18c8f8" transform="rotate(-12 267 180)" filter="url(#b2)"/><ellipse cx="269.6" cy="186" rx="2" ry="10" fill="#3c8cff" transform="rotate(-8 269.6 186)" filter="url(#b1)" opacity="0.9"/><ellipse cx="254.6" cy="142" rx="1.6" ry="2.4" fill="#0a2cf0" filter="url(#b05)"/><ellipse cx="262" cy="158" rx="1.6" ry="3" fill="#3c8cff" transform="rotate(-20 262 158)" filter="url(#b05)"/><ellipse cx="246" cy="184" rx="4" ry="10" fill="#18c8f8" transform="rotate(-38 246 184)" filter="url(#b2)" opacity="0.75"/><ellipse cx="236" cy="156" rx="2.6" ry="10" fill="#18c8f8" transform="rotate(-6 236 156)" filter="url(#b2)" opacity="0.6"/><ellipse cx="249" cy="158" rx="4" ry="22" fill="#c0f400" transform="rotate(-22 249 158)" filter="url(#b3)" opacity="0.9"/><polyline points="240,131 246,152 255,174 265,197" fill="none" stroke="#f4f000" stroke-width="1.9" stroke-linecap="round" stroke-linejoin="round" filter="url(#b1)" opacity="0.9"/><polyline points="239.6,130 242,140 244.5,150" fill="none" stroke="#ff1000" stroke-width="1.8" stroke-linecap="round" stroke-linejoin="round" filter="url(#b05)"/><polyline points="244.5,150 248,160" fill="none" stroke="#ff8000" stroke-width="1.5" stroke-linecap="round" stroke-linejoin="round" filter="url(#b05)"/><rect x="228" y="125" width="50" height="80" filter="url(#tex)" opacity="0.32"/><rect x="228" y="125" width="50" height="80" filter="url(#tex2)" opacity="0.55"/><path d="M239.3 129C243 129.6 246.5 131.5 250 134.8C254 138.6 257.5 143.5 260.6 149C264 155 266.6 162 268.6 169C270.4 175.5 271.2 182 270.8 188C270.4 193 269.4 197 268 199.6C264.5 199.8 260.5 197.6 256.5 194.6C251.5 191 246.5 186 242.6 180C238.6 174 235.8 167 234 160C232.4 153.5 232.2 146.5 233.4 140.5C234.4 136 236.4 131 239.3 129Z" fill="none" stroke="#30f0c0" stroke-width="1" opacity="0.6" filter="url(#b05)"/></g><g clip-path="url(#cp8)" ><rect x="190" y="102" width="48" height="30" fill="#20f020"/><ellipse cx="197" cy="114.5" rx="5" ry="7" fill="#0a2cf0" filter="url(#b1)"/><ellipse cx="203.5" cy="115" rx="3" ry="8" fill="#18c8f8" filter="url(#b1)"/><ellipse cx="222" cy="117.5" rx="8" ry="6.5" fill="#f4f000" filter="url(#b2)"/><ellipse cx="229" cy="117.5" rx="7" ry="6" fill="#ff8000" filter="url(#b2)"/><polyline points="218,117 236,117" fill="none" stroke="#ff1000" stroke-width="3.2" stroke-linecap="round" stroke-linejoin="round" filter="url(#b1)"/><rect x="190" y="102" width="48" height="30" filter="url(#tex)" opacity="0.3"/><rect x="190" y="102" width="48" height="30" filter="url(#tex2)" opacity="0.35"/></g><g clip-path="url(#cp9)" ><rect x="232" y="106" width="60" height="36" fill="#20f020"/><ellipse cx="262" cy="124.5" rx="17" ry="7.5" fill="#f4f000" transform="rotate(16 262 124.5)" filter="url(#b3)"/><ellipse cx="256" cy="122.5" rx="13" ry="5.5" fill="#ff8000" transform="rotate(14 256 122.5)" filter="url(#b2)"/><polyline points="238,118 252,121 264,125" fill="none" stroke="#ff1000" stroke-width="3.4" stroke-linecap="round" stroke-linejoin="round" filter="url(#b1)"/><polyline points="246,114.5 257,118.5" fill="none" stroke="#ff1000" stroke-width="1.8" stroke-linecap="round" stroke-linejoin="round" filter="url(#b1)"/><ellipse cx="285.5" cy="134.6" rx="3.4" ry="2.6" fill="#18c8f8" transform="rotate(20 285.5 134.6)" filter="url(#b1)"/><ellipse cx="287.6" cy="135.4" rx="1.6" ry="1.3" fill="#3c8cff" filter="url(#b05)"/><rect x="232" y="106" width="60" height="36" filter="url(#tex)" opacity="0.3"/><rect x="232" y="106" width="60" height="36" filter="url(#tex2)" opacity="0.35"/></g><g clip-path="url(#cp10)" ><rect x="225" y="94" width="18" height="22" fill="#20f020"/><ellipse cx="236" cy="108" rx="3" ry="5" fill="#f4f000" transform="rotate(-30 236 108)" filter="url(#b1)"/></g><ellipse cx="236" cy="117" rx="13" ry="8" fill="#f4f000" transform="rotate(5 236 117)" filter="url(#b1)"/><ellipse cx="236" cy="117" rx="11.4" ry="7" fill="#ff8000" transform="rotate(5 236 117)" filter="url(#b1)"/><polygon points="247.9,118.7 242.0,120.1 241.6,124.5 236.2,122.2 231.0,124.7 230.2,120.3 224.2,119.1 228.6,116.0 226.3,111.9 232.6,112.4 235.7,108.6 239.1,112.3 245.3,111.6 243.3,115.7" fill="#ff1000" filter="url(#b07)"/><g transform="translate(-0.6,192.7) scale(1,0.989)"><ellipse cx="61" cy="134" rx="11.4" ry="6.8" fill="#a2a2a6" filter="url(#b05)"/><ellipse cx="59.4" cy="132" rx="7.5" ry="3.4" fill="#c8c8cc" filter="url(#b1)"/><g clip-path="url(#cp11)" ><rect x="60" y="25" width="60" height="90" fill="#0a2cf0"/><ellipse cx="91" cy="82" rx="11" ry="26" fill="#18c8f8" transform="rotate(6 91 82)" filter="url(#b3)"/><ellipse cx="89" cy="60" rx="13" ry="32" fill="#20f020" transform="rotate(12 89 60)" filter="url(#b3)"/><ellipse cx="86" cy="76" rx="7" ry="18" fill="#20f020" transform="rotate(14 86 76)" filter="url(#b2)"/><ellipse cx="75.5" cy="92" rx="3.6" ry="9" fill="#0a2cf0" transform="rotate(18 75.5 92)" filter="url(#b2)"/><ellipse cx="101.5" cy="93" rx="3.6" ry="9" fill="#0a2cf0" transform="rotate(30 101.5 93)" filter="url(#b2)"/><polyline points="93,35 90,60 87.5,85 86.5,104" fill="none" stroke="#d8f020" stroke-width="2.2" stroke-linecap="round" stroke-linejoin="round" filter="url(#b1)" opacity="0.95"/><polyline points="91.6,46 89.6,64 87.8,82" fill="none" stroke="#f4f000" stroke-width="1.1" stroke-linecap="round" stroke-linejoin="round" filter="url(#b05)" opacity="0.9"/><polyline points="87.2,92 86.6,105" fill="none" stroke="#ff8000" stroke-width="1.6" stroke-linecap="round" stroke-linejoin="round" filter="url(#b07)"/><rect x="60" y="25" width="60" height="90" filter="url(#tex)" opacity="0.5"/><path d="M92.8 31C95 31.4 97.6 34.5 98.9 38.5C100.5 46 101.5 56 102.6 65C103.6 72 105.3 76 105 81C104.7 88 102 93.5 98 97.5C95 100.5 92 102.8 89.5 104.5L84.5 104.5C80.5 102 76.5 97 74 91.5C71.4 86 70.6 80 71.9 72C73.4 64 77 56 81 49C84.5 42.5 88.5 35 92.8 31Z" fill="none" stroke="#40e8f0" stroke-width="1.1" opacity="0.75" filter="url(#b05)"/><ellipse cx="93" cy="32.4" rx="2.2" ry="1.7" fill="#ff4000" filter="url(#b05)"/></g><g transform="translate(-2.6,0)"><g clip-path="url(#cp12)" ><rect x="70" y="120" width="55" height="85" fill="#0a2cf0"/><ellipse cx="97" cy="160" rx="11.5" ry="34" fill="#18c8f8" transform="rotate(-16 97 160)" filter="url(#b3)" opacity="0.95"/><ellipse cx="99" cy="170" rx="9.5" ry="28" fill="#20f020" transform="rotate(-17 99 170)" filter="url(#b3)"/><ellipse cx="94" cy="150" rx="4" ry="14" fill="#20f020" transform="rotate(-17 94 150)" filter="url(#b2)" opacity="0.9"/><polyline points="88,129 92,148 98,170 104.5,195" fill="none" stroke="#c8f020" stroke-width="2.1" stroke-linecap="round" stroke-linejoin="round" filter="url(#b1)" opacity="0.95"/><polyline points="88,128 90,138" fill="none" stroke="#ff8000" stroke-width="1.7" stroke-linecap="round" stroke-linejoin="round" filter="url(#b07)"/><rect x="70" y="120" width="55" height="85" filter="url(#tex)" opacity="0.5"/><path d="M87.5 127.5C91 128.2 95 130 98.5 133C103 137.5 108 145 111 152C114 160 115.5 168 115.2 176C114.8 184 111 192 105.4 197.4C103.4 197.6 100 194.5 96 191C90 185.5 84.5 178.5 81 171C77 163 75 154 75.6 147C76.2 141 79 134.5 82.5 130.5C84 128.8 85.8 127.6 87.5 127.5Z" fill="none" stroke="#40e8f0" stroke-width="1.1" opacity="0.7" filter="url(#b05)"/><ellipse cx="105.2" cy="196.4" rx="1.6" ry="1.4" fill="#e8e000" filter="url(#b05)"/></g></g><g transform="translate(0,-1.8)"><g clip-path="url(#cp13)" ><rect x="35" y="100" width="50" height="32" fill="#0a2cf0"/><ellipse cx="60" cy="117" rx="13" ry="5.5" fill="#18c8f8" transform="rotate(8 60 117)" filter="url(#b2)"/><ellipse cx="70" cy="118" rx="9" ry="8" fill="#20f0a0" filter="url(#b2)"/><ellipse cx="74" cy="118.5" rx="8" ry="8" fill="#20f020" filter="url(#b2)"/><polyline points="44,118 60,117.5 74,118.5" fill="none" stroke="#50f0e0" stroke-width="1.3" stroke-linecap="round" stroke-linejoin="round" filter="url(#b1)" opacity="0.9"/><ellipse cx="70" cy="118" rx="10" ry="7" fill="#20f020" filter="url(#b2)"/><rect x="35" y="100" width="50" height="32" filter="url(#tex)" opacity="0.45"/></g><g clip-path="url(#cp14)" ><rect x="80" y="98" width="45" height="32" fill="#0a2cf0"/><ellipse cx="102" cy="111" rx="11" ry="6.5" fill="#18c8f8" transform="rotate(-22 102 111)" filter="url(#b2)"/><ellipse cx="95" cy="115" rx="9" ry="8" fill="#20f0a0" transform="rotate(-15 95 115)" filter="url(#b2)"/><ellipse cx="91" cy="117" rx="8" ry="8" fill="#20f020" filter="url(#b2)"/><polyline points="88,117 102,111.5 118,105" fill="none" stroke="#50f0c0" stroke-width="1.3" stroke-linecap="round" stroke-linejoin="round" filter="url(#b1)" opacity="0.9"/><ellipse cx="108.5" cy="115" rx="2.2" ry="2.6" fill="#0818c0" filter="url(#b1)"/><ellipse cx="97" cy="114" rx="10" ry="7" fill="#20f020" transform="rotate(-15 97 114)" filter="url(#b2)"/><rect x="80" y="98" width="45" height="32" filter="url(#tex)" opacity="0.45"/></g><g clip-path="url(#cp15)" ><rect x="65" y="92" width="25" height="25" fill="#18c8f8"/><ellipse cx="79" cy="108" rx="4" ry="6" fill="#20f020" transform="rotate(-30 79 108)" filter="url(#b1)"/><ellipse cx="81" cy="112" rx="3" ry="4" fill="#f4f000" transform="rotate(-30 81 112)" filter="url(#b1)"/></g><polygon points="100.9,123.0 93.9,125.0 93.6,131.7 86.7,129.2 81.8,134.2 78.3,128.2 71.0,129.1 72.6,122.6 66.3,119.0 72.2,114.9 69.9,108.5 77.3,108.7 80.1,102.5 85.5,107.0 92.1,103.9 93.1,110.6 100.3,112.0 96.4,117.6" fill="#20f020" filter="url(#b1)"/><polygon points="97.9,122.1 91.2,123.1 91.9,129.3 86.0,126.2 82.2,131.3 79.9,125.5 73.3,127.2 75.7,121.4 69.5,118.8 75.4,115.8 72.4,110.2 79.1,111.3 80.8,105.3 85.1,110.1 90.6,106.5 90.6,112.6 97.4,113.1 93.0,117.8" fill="#f4f000" filter="url(#b07)"/><polygon points="95.9,121.5 90.1,122.4 90.7,127.7 85.7,125.0 82.4,129.4 80.5,124.4 74.9,125.9 76.9,120.9 71.6,118.8 76.7,116.1 74.1,111.4 79.8,112.3 81.2,107.2 85.0,111.3 89.7,108.2 89.6,113.4 95.4,113.8 91.7,117.9" fill="#ff8000" filter="url(#b05)"/><polygon points="94.2,121.1 89.3,121.8 89.8,126.4 85.5,124.1 82.7,127.8 81.0,123.6 76.2,124.8 77.9,120.5 73.3,118.7 77.7,116.4 75.5,112.3 80.4,113.1 81.6,108.7 84.8,112.2 88.9,109.6 88.9,114.1 93.9,114.4 90.6,117.9" fill="#ff1000" filter="url(#b05)"/></g></g><g transform="translate(-2,192.7) scale(1,0.99)"><ellipse cx="219" cy="145" rx="13" ry="10" fill="#0a0a0a" filter="url(#b2)"/><ellipse cx="268.5" cy="140" rx="8.5" ry="4.6" fill="#5c5c62" filter="url(#b07)"/><ellipse cx="266" cy="139" rx="5" ry="2" fill="#77777c" filter="url(#b1)"/><ellipse cx="211" cy="129" rx="9" ry="2.6" fill="#343436" filter="url(#b1)"/><g clip-path="url(#cp16)" ><rect x="228" y="24" width="48" height="86" fill="#20f020"/><ellipse cx="249" cy="42" rx="4" ry="9" fill="#18c8f8" transform="rotate(25 249 42)" filter="url(#b2)"/><ellipse cx="266" cy="46" rx="4.5" ry="13" fill="#18c8f8" transform="rotate(-10 266 46)" filter="url(#b2)"/><ellipse cx="267" cy="44" rx="2.2" ry="6" fill="#0a2cf0" transform="rotate(-12 267 44)" filter="url(#b1)"/><ellipse cx="263" cy="86" rx="3" ry="8" fill="#18c8f8" transform="rotate(30 263 86)" filter="url(#b2)" opacity="0.7"/><ellipse cx="250" cy="74" rx="7.5" ry="28" fill="#f4f000" transform="rotate(14 250 74)" filter="url(#b3)" opacity="0.95"/><ellipse cx="248" cy="82" rx="5" ry="20" fill="#ff8000" transform="rotate(12 248 82)" filter="url(#b2)" opacity="0.95"/><polyline points="241.6,106 245,93 250.7,78 253.6,62" fill="none" stroke="#ff1000" stroke-width="1.9" stroke-linecap="round" stroke-linejoin="round" filter="url(#b07)"/><polyline points="253.6,62 255,48" fill="none" stroke="#ff4000" stroke-width="1.5" stroke-linecap="round" stroke-linejoin="round" filter="url(#b07)" opacity="0.9"/><polyline points="241.8,105 243,90 243.6,76 243.2,64" fill="none" stroke="#ff1000" stroke-width="1.6" stroke-linecap="round" stroke-linejoin="round" filter="url(#b07)"/><polyline points="248,84 252,74 255,68" fill="none" stroke="#ff1000" stroke-width="1.2" stroke-linecap="round" stroke-linejoin="round" filter="url(#b05)"/><rect x="228" y="24" width="48" height="86" filter="url(#tex)" opacity="0.32"/><rect x="228" y="24" width="48" height="86" filter="url(#tex2)" opacity="0.55"/><path d="M257.4 28.8C260 29.6 262.5 32 264.2 35C266.5 39.5 267.6 43 268.2 47C269.4 52 270.3 56 270.2 61C270.2 67 269.6 71 268.6 75.5C267.4 81 264.5 87 260 93C256.5 97.5 252 101 248.5 103.5L241 104C238.5 101.5 236.8 98 236 93.5C235 88 235.4 80 236.6 73.5C237.8 67 239.8 61.5 242 56C244.5 49.5 247.5 42.5 250.8 36C252.6 32.6 255 29.6 257.4 28.8Z" fill="none" stroke="#30f0c0" stroke-width="1" opacity="0.6" filter="url(#b05)"/><ellipse cx="257.4" cy="30" rx="2" ry="1.6" fill="#d8f020" filter="url(#b05)"/></g><g clip-path="url(#cp17)" ><rect x="228" y="125" width="50" height="80" fill="#20f020"/><ellipse cx="267" cy="182" rx="3.6" ry="15" fill="#18c8f8" transform="rotate(-12 267 182)" filter="url(#b2)"/><ellipse cx="269.6" cy="188" rx="2" ry="9" fill="#3c8cff" transform="rotate(-8 269.6 188)" filter="url(#b1)" opacity="0.9"/><ellipse cx="244" cy="184" rx="3.5" ry="9" fill="#18c8f8" transform="rotate(-38 244 184)" filter="url(#b2)" opacity="0.8"/><ellipse cx="235.6" cy="160" rx="2.4" ry="9" fill="#18c8f8" transform="rotate(-6 235.6 160)" filter="url(#b2)" opacity="0.7"/><ellipse cx="250" cy="160" rx="6" ry="28" fill="#f4f000" transform="rotate(-22 250 160)" filter="url(#b3)" opacity="0.95"/><ellipse cx="247.5" cy="152" rx="3.6" ry="18" fill="#ff8000" transform="rotate(-20 247.5 152)" filter="url(#b2)" opacity="0.95"/><polyline points="239.6,130 243,143 247,155" fill="none" stroke="#ff1000" stroke-width="2" stroke-linecap="round" stroke-linejoin="round" filter="url(#b07)"/><polyline points="247,155 250,164 253,172" fill="none" stroke="#ff5000" stroke-width="1.5" stroke-linecap="round" stroke-linejoin="round" filter="url(#b07)" opacity="0.9"/><rect x="228" y="125" width="50" height="80" filter="url(#tex)" opacity="0.32"/><rect x="228" y="125" width="50" height="80" filter="url(#tex2)" opacity="0.55"/><path d="M239.3 129C243 129.6 246.5 131.5 250 134.8C254 138.6 257.5 143.5 260.6 149C264 155 266.6 162 268.6 169C270.4 175.5 271.2 182 270.8 188C270.4 193 269.4 197 268 199.6C264.5 199.8 260.5 197.6 256.5 194.6C251.5 191 246.5 186 242.6 180C238.6 174 235.8 167 234 160C232.4 153.5 232.2 146.5 233.4 140.5C234.4 136 236.4 131 239.3 129Z" fill="none" stroke="#30f0c0" stroke-width="1" opacity="0.6" filter="url(#b05)"/></g><g clip-path="url(#cp18)" ><rect x="190" y="102" width="48" height="30" fill="#20f020"/><ellipse cx="197" cy="114.5" rx="5" ry="7" fill="#0a2cf0" filter="url(#b1)"/><ellipse cx="203.5" cy="115" rx="3" ry="8" fill="#18c8f8" filter="url(#b1)"/><ellipse cx="222" cy="117.5" rx="11" ry="14" fill="#f4f000" filter="url(#b2)"/><ellipse cx="227" cy="117.5" rx="11" ry="14" fill="#ff8000" filter="url(#b2)"/><ellipse cx="231" cy="117.5" rx="11" ry="13" fill="#ff1000" filter="url(#b1)"/><polyline points="213,116 236,117" fill="none" stroke="#ff1000" stroke-width="3" stroke-linecap="round" stroke-linejoin="round" filter="url(#b1)"/><rect x="190" y="102" width="48" height="30" filter="url(#tex)" opacity="0.3"/><rect x="190" y="102" width="48" height="30" filter="url(#tex2)" opacity="0.35"/></g><g clip-path="url(#cp19)" ><rect x="232" y="106" width="60" height="36" fill="#20f020"/><ellipse cx="262" cy="124.5" rx="17" ry="7.5" fill="#f4f000" transform="rotate(16 262 124.5)" filter="url(#b3)"/><ellipse cx="257" cy="123.5" rx="18" ry="11" fill="#f4f000" transform="rotate(16 257 123.5)" filter="url(#b2)"/><ellipse cx="254" cy="122.5" rx="17" ry="10" fill="#ff8000" transform="rotate(16 254 122.5)" filter="url(#b2)"/><ellipse cx="250" cy="121.5" rx="15" ry="9.5" fill="#ff1000" transform="rotate(14 250 121.5)" filter="url(#b1)"/><polyline points="238,118 254,122.5 270,129" fill="none" stroke="#ff1000" stroke-width="3" stroke-linecap="round" stroke-linejoin="round" filter="url(#b1)"/><ellipse cx="283" cy="136" rx="4" ry="2" fill="#18c8f8" transform="rotate(10 283 136)" filter="url(#b1)"/><ellipse cx="285.5" cy="134.6" rx="3" ry="2.4" fill="#20f080" transform="rotate(20 285.5 134.6)" filter="url(#b1)"/><rect x="232" y="106" width="60" height="36" filter="url(#tex)" opacity="0.3"/><rect x="232" y="106" width="60" height="36" filter="url(#tex2)" opacity="0.35"/></g><g clip-path="url(#cp20)" ><rect x="225" y="94" width="18" height="22" fill="#20f020"/><ellipse cx="236" cy="108" rx="3" ry="5" fill="#f4f000" transform="rotate(-30 236 108)" filter="url(#b1)"/></g><ellipse cx="235" cy="117" rx="9" ry="11" fill="#ff8000" filter="url(#b1)"/><ellipse cx="235" cy="117" rx="8.5" ry="10" fill="#ff1000" filter="url(#b1)"/><polygon points="246.6,122.3 240.4,123.3 237.3,127.8 232.5,124.4 226.3,125.2 226.5,120.0 221.8,116.4 226.9,113.3 227.3,108.1 233.4,109.4 238.6,106.4 241.1,111.2 247.2,112.7 244.2,117.4" fill="#ff1000" filter="url(#b1)"/></g><polygon points="144.0,39.7 129.0,47.6 129.9,43.9 117.5,55.8 134.3,52.2 130.7,50.8 145.6,42.9" fill="#f6ea08"/><polygon points="144.0,151.9 129.0,159.8 129.9,156.1 117.5,168.0 134.3,164.4 130.7,163.0 145.6,155.1" fill="#f6ea08"/><polygon points="299.8,39.7 284.9,47.6 285.7,43.9 273.4,55.8 290.2,52.2 286.6,50.8 301.4,42.9" fill="#f6ea08"/><polygon points="299.8,151.9 284.9,159.8 285.7,156.1 273.4,168.0 290.2,164.4 286.6,163.0 301.4,155.1" fill="#f6ea08"/><polygon points="144.0,234.4 129.0,242.3 129.9,238.6 117.5,250.5 134.3,246.9 130.7,245.5 145.6,237.6" fill="#f6ea08"/><polygon points="144.0,345.8 129.0,353.7 129.9,350.0 117.5,361.9 134.3,358.3 130.7,356.9 145.6,349.0" fill="#f6ea08"/><polygon points="301.6,234.4 286.2,242.4 287.1,238.7 274.6,250.5 291.4,247.0 287.8,245.6 303.2,237.6" fill="#f6ea08"/><polygon points="301.6,345.8 286.2,353.8 287.1,350.1 274.6,361.9 291.4,358.4 287.8,357.0 303.2,349.0" fill="#f6ea08"/>
<rect x="370.5" y="6.5" width="277.8" height="417.3" fill="#ececec" stroke="#333" stroke-width="1.1"/>
<rect x="375.2" y="8.3" width="269.5" height="99.9" fill="#fafafa" stroke="#6e6e6e" stroke-width="0.9"/>
<rect x="375.2" y="112.3" width="269.5" height="100.8" fill="#fafafa" stroke="#6e6e6e" stroke-width="0.9"/>
<rect x="375.2" y="216.6" width="269.5" height="100.7" fill="#fafafa" stroke="#6e6e6e" stroke-width="0.9"/>
<rect x="375.2" y="320.7" width="269.5" height="100.6" fill="#fafafa" stroke="#6e6e6e" stroke-width="0.9"/>
<g font-family="Liberation Sans" fill="#222" opacity="0.995">
<text x="378.4" y="14.6" font-size="5.9" font-weight="bold" stroke="#222" stroke-width="0.2">A</text>
<rect x="402.4" y="21.4" width="104.8" height="66.8" fill="#fdfdfd" stroke="#555" stroke-width="0.55"/>
<line x1="400.8" y1="21.4" x2="402.4" y2="21.4" stroke="#444" stroke-width="0.5"/>
<text x="397.7" y="22.9" font-size="4.6" text-anchor="end" fill="#262626">300</text>
<line x1="400.8" y1="29.75" x2="402.4" y2="29.75" stroke="#444" stroke-width="0.5"/>
<text x="397.7" y="31.25" font-size="4.6" text-anchor="end" fill="#262626">290</text>
<line x1="400.8" y1="38.1" x2="402.4" y2="38.1" stroke="#444" stroke-width="0.5"/>
<text x="397.7" y="39.6" font-size="4.6" text-anchor="end" fill="#262626">280</text>
<line x1="400.8" y1="46.45" x2="402.4" y2="46.45" stroke="#444" stroke-width="0.5"/>
<text x="397.7" y="47.95" font-size="4.6" text-anchor="end" fill="#262626">270</text>
<line x1="400.8" y1="54.8" x2="402.4" y2="54.8" stroke="#444" stroke-width="0.5"/>
<text x="397.7" y="56.3" font-size="4.6" text-anchor="end" fill="#262626">260</text>
<line x1="400.8" y1="63.15" x2="402.4" y2="63.15" stroke="#444" stroke-width="0.5"/>
<text x="397.7" y="64.65" font-size="4.6" text-anchor="end" fill="#262626">250</text>
<line x1="400.8" y1="71.5" x2="402.4" y2="71.5" stroke="#444" stroke-width="0.5"/>
<text x="397.7" y="73" font-size="4.6" text-anchor="end" fill="#262626">240</text>
<line x1="400.8" y1="79.85" x2="402.4" y2="79.85" stroke="#444" stroke-width="0.5"/>
<text x="397.7" y="81.35" font-size="4.6" text-anchor="end" fill="#262626">230</text>
<line x1="400.8" y1="88.2" x2="402.4" y2="88.2" stroke="#444" stroke-width="0.5"/>
<text x="397.7" y="89.7" font-size="4.6" text-anchor="end" fill="#262626">220</text>
<line x1="412.5" y1="88.2" x2="412.5" y2="89.8" stroke="#444" stroke-width="0.5"/>
<text x="412.5" y="95.4" font-size="4.6" text-anchor="middle" fill="#262626">8</text>
<line x1="433.3" y1="88.2" x2="433.3" y2="89.8" stroke="#444" stroke-width="0.5"/>
<text x="433.3" y="95.4" font-size="4.6" text-anchor="middle" fill="#262626">11</text>
<line x1="454" y1="88.2" x2="454" y2="89.8" stroke="#444" stroke-width="0.5"/>
<text x="454" y="95.4" font-size="4.6" text-anchor="middle" fill="#262626">14</text>
<line x1="474.8" y1="88.2" x2="474.8" y2="89.8" stroke="#444" stroke-width="0.5"/>
<text x="474.8" y="95.4" font-size="4.6" text-anchor="middle" fill="#262626">17</text>
<line x1="495.5" y1="88.2" x2="495.5" y2="89.8" stroke="#444" stroke-width="0.5"/>
<text x="495.5" y="95.4" font-size="4.6" text-anchor="middle" fill="#262626">20</text>
<text x="454.5" y="103.5" font-size="5.2" font-weight="bold" text-anchor="middle" stroke="#222" stroke-width="0.12">Leaf age (days)</text>
<text transform="translate(385.3,51.9) rotate(-90)" font-size="5.3" font-weight="bold" text-anchor="middle" stroke="#222" stroke-width="0.1">F440</text>
<line x1="410" y1="15.1" x2="425" y2="15.1" stroke="#222" stroke-width="0.6"/>
<circle cx="417.5" cy="15.1" r="1.5" fill="#111"/>
<text x="426.5" y="16.6" font-size="4.7" fill="#222">Control</text>
<line x1="451" y1="15.1" x2="466.5" y2="15.1" stroke="#222" stroke-width="0.6" stroke-dasharray="1.6,1.4"/>
<rect x="457.3" y="13.6" width="3" height="3" fill="#111"/>
<text x="468.5" y="16.6" font-size="4.7" fill="#222">Inoculated</text>
<path d="M412.5 68.8V70.8M411.5 68.8h2M411.5 70.8h2" stroke="#555" stroke-width="0.45" fill="none"/>
<path d="M433.3 56.2V58.6M432.3 56.2h2M432.3 58.6h2" stroke="#555" stroke-width="0.45" fill="none"/>
<path d="M454 48.8V53.2M453 48.8h2M453 53.2h2" stroke="#555" stroke-width="0.45" fill="none"/>
<path d="M474.8 54V57.2M473.8 54h2M473.8 57.2h2" stroke="#555" stroke-width="0.45" fill="none"/>
<path d="M495.5 49V52.2M494.5 49h2M494.5 52.2h2" stroke="#555" stroke-width="0.45" fill="none"/>
<path d="M412.5 73.3V75.7M411.5 73.3h2M411.5 75.7h2" stroke="#555" stroke-width="0.45" fill="none"/>
<path d="M433.3 64.8V67.6M432.3 64.8h2M432.3 67.6h2" stroke="#555" stroke-width="0.45" fill="none"/>
<path d="M454 57.4V62.6M453 57.4h2M453 62.6h2" stroke="#555" stroke-width="0.45" fill="none"/>
<path d="M474.8 67.6V72.4M473.8 67.6h2M473.8 72.4h2" stroke="#555" stroke-width="0.45" fill="none"/>
<path d="M495.5 62.8V66.4M494.5 62.8h2M494.5 66.4h2" stroke="#555" stroke-width="0.45" fill="none"/>
<polyline points="412.5,69.8 433.3,57.4 454,51 474.8,55.6 495.5,50.6" fill="none" stroke="#1c1c1c" stroke-width="0.85"/>
<polyline points="412.5,74.5 433.3,66.2 454,60 474.8,70 495.5,64.6" fill="none" stroke="#1c1c1c" stroke-width="0.85" stroke-dasharray="2.4,1.7"/>
<circle cx="412.5" cy="69.8" r="2.2" fill="#0c0c0c"/>
<circle cx="433.3" cy="57.4" r="2.2" fill="#0c0c0c"/>
<circle cx="454" cy="51" r="2.2" fill="#0c0c0c"/>
<circle cx="474.8" cy="55.6" r="2.2" fill="#0c0c0c"/>
<circle cx="495.5" cy="50.6" r="2.2" fill="#0c0c0c"/>
<rect x="410.3" y="72.3" width="4.4" height="4.4" fill="#0c0c0c"/>
<rect x="431.1" y="64" width="4.4" height="4.4" fill="#0c0c0c"/>
<rect x="451.8" y="57.8" width="4.4" height="4.4" fill="#0c0c0c"/>
<rect x="472.6" y="67.8" width="4.4" height="4.4" fill="#0c0c0c"/>
<rect x="493.3" y="62.4" width="4.4" height="4.4" fill="#0c0c0c"/>
<text transform="translate(412.5,64.5) rotate(-57)" font-size="4.7" fill="#303030">P= 0.0036</text>
<text transform="translate(432.8,53) rotate(-57)" font-size="4.7" fill="#303030">P= 0.0025</text>
<text transform="translate(453,43.5) rotate(-57)" font-size="4.7" fill="#303030">P= 0.0391</text>
<text transform="translate(474,49) rotate(-57)" font-size="4.7" fill="#303030">P= 0.0018</text>
<text transform="translate(494.5,46) rotate(-57)" font-size="4.7" fill="#303030">P= 0.0004</text>
</g>
<g font-family="Liberation Sans" fill="#222" opacity="0.995">
<text x="378.4" y="120" font-size="5.9" font-weight="bold" stroke="#222" stroke-width="0.2">B</text>
<rect x="402.4" y="125.8" width="104.8" height="67.2" fill="#fdfdfd" stroke="#555" stroke-width="0.55"/>
<line x1="400.8" y1="125.8" x2="402.4" y2="125.8" stroke="#444" stroke-width="0.5"/>
<text x="397.7" y="127.3" font-size="4.6" text-anchor="end" fill="#262626">600</text>
<line x1="400.8" y1="132.52" x2="402.4" y2="132.52" stroke="#444" stroke-width="0.5"/>
<text x="397.7" y="134.02" font-size="4.6" text-anchor="end" fill="#262626">580</text>
<line x1="400.8" y1="139.24" x2="402.4" y2="139.24" stroke="#444" stroke-width="0.5"/>
<text x="397.7" y="140.74" font-size="4.6" text-anchor="end" fill="#262626">560</text>
<line x1="400.8" y1="145.96" x2="402.4" y2="145.96" stroke="#444" stroke-width="0.5"/>
<text x="397.7" y="147.46" font-size="4.6" text-anchor="end" fill="#262626">540</text>
<line x1="400.8" y1="152.68" x2="402.4" y2="152.68" stroke="#444" stroke-width="0.5"/>
<text x="397.7" y="154.18" font-size="4.6" text-anchor="end" fill="#262626">520</text>
<line x1="400.8" y1="159.4" x2="402.4" y2="159.4" stroke="#444" stroke-width="0.5"/>
<text x="397.7" y="160.9" font-size="4.6" text-anchor="end" fill="#262626">500</text>
<line x1="400.8" y1="166.12" x2="402.4" y2="166.12" stroke="#444" stroke-width="0.5"/>
<text x="397.7" y="167.62" font-size="4.6" text-anchor="end" fill="#262626">480</text>
<line x1="400.8" y1="172.84" x2="402.4" y2="172.84" stroke="#444" stroke-width="0.5"/>
<text x="397.7" y="174.34" font-size="4.6" text-anchor="end" fill="#262626">460</text>
<line x1="400.8" y1="179.56" x2="402.4" y2="179.56" stroke="#444" stroke-width="0.5"/>
<text x="397.7" y="181.06" font-size="4.6" text-anchor="end" fill="#262626">440</text>
<line x1="400.8" y1="186.28" x2="402.4" y2="186.28" stroke="#444" stroke-width="0.5"/>
<text x="397.7" y="187.78" font-size="4.6" text-anchor="end" fill="#262626">420</text>
<line x1="400.8" y1="193" x2="402.4" y2="193" stroke="#444" stroke-width="0.5"/>
<text x="397.7" y="194.5" font-size="4.6" text-anchor="end" fill="#262626">400</text>
<line x1="412.5" y1="193" x2="412.5" y2="194.6" stroke="#444" stroke-width="0.5"/>
<text x="412.5" y="200.2" font-size="4.6" text-anchor="middle" fill="#262626">8</text>
<line x1="433.3" y1="193" x2="433.3" y2="194.6" stroke="#444" stroke-width="0.5"/>
<text x="433.3" y="200.2" font-size="4.6" text-anchor="middle" fill="#262626">11</text>
<line x1="454" y1="193" x2="454" y2="194.6" stroke="#444" stroke-width="0.5"/>
<text x="454" y="200.2" font-size="4.6" text-anchor="middle" fill="#262626">14</text>
<line x1="474.8" y1="193" x2="474.8" y2="194.6" stroke="#444" stroke-width="0.5"/>
<text x="474.8" y="200.2" font-size="4.6" text-anchor="middle" fill="#262626">17</text>
<line x1="495.5" y1="193" x2="495.5" y2="194.6" stroke="#444" stroke-width="0.5"/>
<text x="495.5" y="200.2" font-size="4.6" text-anchor="middle" fill="#262626">20</text>
<text x="454.5" y="208.3" font-size="5.2" font-weight="bold" text-anchor="middle" stroke="#222" stroke-width="0.12">Leaf age (days)</text>
<text transform="translate(385.3,161.9) rotate(-90)" font-size="5.3" font-weight="bold" text-anchor="middle" stroke="#222" stroke-width="0.1">F520</text>
<line x1="410" y1="119.5" x2="425" y2="119.5" stroke="#222" stroke-width="0.6"/>
<circle cx="417.5" cy="119.5" r="1.5" fill="#111"/>
<text x="426.5" y="121" font-size="4.7" fill="#222">Control</text>
<line x1="451" y1="119.5" x2="466.5" y2="119.5" stroke="#222" stroke-width="0.6" stroke-dasharray="1.6,1.4"/>
<rect x="457.3" y="118" width="3" height="3" fill="#111"/>
<text x="468.5" y="121" font-size="4.7" fill="#222">Inoculated</text>
<path d="M412.5 157V159.4M411.5 157h2M411.5 159.4h2" stroke="#555" stroke-width="0.45" fill="none"/>
<path d="M433.3 153.2V155.6M432.3 153.2h2M432.3 155.6h2" stroke="#555" stroke-width="0.45" fill="none"/>
<path d="M454 155V158.2M453 155h2M453 158.2h2" stroke="#555" stroke-width="0.45" fill="none"/>
<path d="M474.8 170V175.2M473.8 170h2M473.8 175.2h2" stroke="#555" stroke-width="0.45" fill="none"/>
<path d="M495.5 173.1V176.3M494.5 173.1h2M494.5 176.3h2" stroke="#555" stroke-width="0.45" fill="none"/>
<path d="M412.5 161.2V164M411.5 161.2h2M411.5 164h2" stroke="#555" stroke-width="0.45" fill="none"/>
<path d="M433.3 162.2V165.4M432.3 162.2h2M432.3 165.4h2" stroke="#555" stroke-width="0.45" fill="none"/>
<path d="M454 161.3V166.5M453 161.3h2M453 166.5h2" stroke="#555" stroke-width="0.45" fill="none"/>
<path d="M474.8 176.6V187.6M473.8 176.6h2M473.8 187.6h2" stroke="#555" stroke-width="0.45" fill="none"/>
<path d="M495.5 174.4V184M494.5 174.4h2M494.5 184h2" stroke="#555" stroke-width="0.45" fill="none"/>
<polyline points="412.5,158.2 433.3,154.4 454,156.6 474.8,172.6 495.5,174.7" fill="none" stroke="#1c1c1c" stroke-width="0.85"/>
<polyline points="412.5,162.6 433.3,163.8 454,163.9 474.8,182.1 495.5,179.2" fill="none" stroke="#1c1c1c" stroke-width="0.85" stroke-dasharray="2.4,1.7"/>
<circle cx="412.5" cy="158.2" r="2.2" fill="#0c0c0c"/>
<circle cx="433.3" cy="154.4" r="2.2" fill="#0c0c0c"/>
<circle cx="454" cy="156.6" r="2.2" fill="#0c0c0c"/>
<circle cx="474.8" cy="172.6" r="2.2" fill="#0c0c0c"/>
<circle cx="495.5" cy="174.7" r="2.2" fill="#0c0c0c"/>
<rect x="410.3" y="160.4" width="4.4" height="4.4" fill="#0c0c0c"/>
<rect x="431.1" y="161.6" width="4.4" height="4.4" fill="#0c0c0c"/>
<rect x="451.8" y="161.7" width="4.4" height="4.4" fill="#0c0c0c"/>
<rect x="472.6" y="179.9" width="4.4" height="4.4" fill="#0c0c0c"/>
<rect x="493.3" y="177" width="4.4" height="4.4" fill="#0c0c0c"/>
<text transform="translate(412.2,153) rotate(-57)" font-size="4.7" fill="#303030">P= 0.0479</text>
<text transform="translate(432.8,149) rotate(-57)" font-size="4.7" fill="#303030">P= 0.0038</text>
<text transform="translate(453,151) rotate(-57)" font-size="4.7" fill="#303030">P= 0.0496</text>
</g>
<g font-family="Liberation Sans" fill="#222" opacity="0.995">
<text x="378.4" y="224.4" font-size="5.9" font-weight="bold" stroke="#222" stroke-width="0.2">C</text>
<rect x="402.4" y="230.6" width="104.8" height="67" fill="#fdfdfd" stroke="#555" stroke-width="0.55"/>
<line x1="400.8" y1="230.6" x2="402.4" y2="230.6" stroke="#444" stroke-width="0.5"/>
<text x="397.7" y="232.1" font-size="4.6" text-anchor="end" fill="#262626">0.62</text>
<line x1="400.8" y1="238.975" x2="402.4" y2="238.975" stroke="#444" stroke-width="0.5"/>
<text x="397.7" y="240.475" font-size="4.6" text-anchor="end" fill="#262626">0.60</text>
<line x1="400.8" y1="247.35" x2="402.4" y2="247.35" stroke="#444" stroke-width="0.5"/>
<text x="397.7" y="248.85" font-size="4.6" text-anchor="end" fill="#262626">0.58</text>
<line x1="400.8" y1="255.725" x2="402.4" y2="255.725" stroke="#444" stroke-width="0.5"/>
<text x="397.7" y="257.225" font-size="4.6" text-anchor="end" fill="#262626">0.56</text>
<line x1="400.8" y1="264.1" x2="402.4" y2="264.1" stroke="#444" stroke-width="0.5"/>
<text x="397.7" y="265.6" font-size="4.6" text-anchor="end" fill="#262626">0.54</text>
<line x1="400.8" y1="272.475" x2="402.4" y2="272.475" stroke="#444" stroke-width="0.5"/>
<text x="397.7" y="273.975" font-size="4.6" text-anchor="end" fill="#262626">0.52</text>
<line x1="400.8" y1="280.85" x2="402.4" y2="280.85" stroke="#444" stroke-width="0.5"/>
<text x="397.7" y="282.35" font-size="4.6" text-anchor="end" fill="#262626">0.50</text>
<line x1="400.8" y1="289.225" x2="402.4" y2="289.225" stroke="#444" stroke-width="0.5"/>
<text x="397.7" y="290.725" font-size="4.6" text-anchor="end" fill="#262626">0.48</text>
<line x1="400.8" y1="297.6" x2="402.4" y2="297.6" stroke="#444" stroke-width="0.5"/>
<text x="397.7" y="299.1" font-size="4.6" text-anchor="end" fill="#262626">0.46</text>
<line x1="412.5" y1="297.6" x2="412.5" y2="299.2" stroke="#444" stroke-width="0.5"/>
<text x="412.5" y="304.8" font-size="4.6" text-anchor="middle" fill="#262626">8</text>
<line x1="433.3" y1="297.6" x2="433.3" y2="299.2" stroke="#444" stroke-width="0.5"/>
<text x="433.3" y="304.8" font-size="4.6" text-anchor="middle" fill="#262626">11</text>
<line x1="454" y1="297.6" x2="454" y2="299.2" stroke="#444" stroke-width="0.5"/>
<text x="454" y="304.8" font-size="4.6" text-anchor="middle" fill="#262626">14</text>
<line x1="474.8" y1="297.6" x2="474.8" y2="299.2" stroke="#444" stroke-width="0.5"/>
<text x="474.8" y="304.8" font-size="4.6" text-anchor="middle" fill="#262626">17</text>
<line x1="495.5" y1="297.6" x2="495.5" y2="299.2" stroke="#444" stroke-width="0.5"/>
<text x="495.5" y="304.8" font-size="4.6" text-anchor="middle" fill="#262626">20</text>
<text x="454.5" y="312.9" font-size="5.2" font-weight="bold" text-anchor="middle" stroke="#222" stroke-width="0.12">Leaf age (days)</text>
<text transform="translate(385.3,260.6) rotate(-90)" font-size="5.3" font-weight="bold" text-anchor="middle" stroke="#222" stroke-width="0.1">F440/F520</text>
<line x1="410" y1="224.3" x2="425" y2="224.3" stroke="#222" stroke-width="0.6"/>
<circle cx="417.5" cy="224.3" r="1.5" fill="#111"/>
<text x="426.5" y="225.8" font-size="4.7" fill="#222">Control</text>
<line x1="451" y1="224.3" x2="466.5" y2="224.3" stroke="#222" stroke-width="0.6" stroke-dasharray="1.6,1.4"/>
<rect x="457.3" y="222.8" width="3" height="3" fill="#111"/>
<text x="468.5" y="225.8" font-size="4.7" fill="#222">Inoculated</text>
<path d="M412.5 283.8V286.2M411.5 283.8h2M411.5 286.2h2" stroke="#555" stroke-width="0.45" fill="none"/>
<path d="M433.3 270V272.4M432.3 270h2M432.3 272.4h2" stroke="#555" stroke-width="0.45" fill="none"/>
<path d="M454 263.8V266.2M453 263.8h2M453 266.2h2" stroke="#555" stroke-width="0.45" fill="none"/>
<path d="M474.8 244.1V252.5M473.8 244.1h2M473.8 252.5h2" stroke="#555" stroke-width="0.45" fill="none"/>
<path d="M495.5 237.9V240.7M494.5 237.9h2M494.5 240.7h2" stroke="#555" stroke-width="0.45" fill="none"/>
<path d="M412.5 288V290.4M411.5 288h2M411.5 290.4h2" stroke="#555" stroke-width="0.45" fill="none"/>
<path d="M433.3 276.9V279.7M432.3 276.9h2M432.3 279.7h2" stroke="#555" stroke-width="0.45" fill="none"/>
<path d="M454 268.7V271.9M453 268.7h2M453 271.9h2" stroke="#555" stroke-width="0.45" fill="none"/>
<path d="M474.8 254.6V267M473.8 254.6h2M473.8 267h2" stroke="#555" stroke-width="0.45" fill="none"/>
<path d="M495.5 244.8V256.8M494.5 244.8h2M494.5 256.8h2" stroke="#555" stroke-width="0.45" fill="none"/>
<polyline points="412.5,285 433.3,271.2 454,265 474.8,248.3 495.5,239.3" fill="none" stroke="#1c1c1c" stroke-width="0.85"/>
<polyline points="412.5,289.2 433.3,278.3 454,270.3 474.8,260.8 495.5,250.8" fill="none" stroke="#1c1c1c" stroke-width="0.85" stroke-dasharray="2.4,1.7"/>
<circle cx="412.5" cy="285" r="2.2" fill="#0c0c0c"/>
<circle cx="433.3" cy="271.2" r="2.2" fill="#0c0c0c"/>
<circle cx="454" cy="265" r="2.2" fill="#0c0c0c"/>
<circle cx="474.8" cy="248.3" r="2.2" fill="#0c0c0c"/>
<circle cx="495.5" cy="239.3" r="2.2" fill="#0c0c0c"/>
<rect x="410.3" y="287" width="4.4" height="4.4" fill="#0c0c0c"/>
<rect x="431.1" y="276.1" width="4.4" height="4.4" fill="#0c0c0c"/>
<rect x="451.8" y="268.1" width="4.4" height="4.4" fill="#0c0c0c"/>
<rect x="472.6" y="258.6" width="4.4" height="4.4" fill="#0c0c0c"/>
<rect x="493.3" y="248.6" width="4.4" height="4.4" fill="#0c0c0c"/>
<text transform="translate(413.5,276) rotate(-57)" font-size="4.7" fill="#303030">P= 0.0280</text>
<text transform="translate(433.5,267) rotate(-57)" font-size="4.7" fill="#303030">P= 0.0049</text>
<text transform="translate(454,258.5) rotate(-57)" font-size="4.7" fill="#303030">P= 0.009</text>
</g>
<g font-family="Liberation Sans" fill="#222" opacity="0.995">
<text x="378.4" y="330.3" font-size="5.9" font-weight="bold" stroke="#222" stroke-width="0.2">D</text>
<rect x="402.4" y="334.6" width="104.8" height="69.2" fill="#fdfdfd" stroke="#555" stroke-width="0.55"/>
<line x1="400.8" y1="334.6" x2="402.4" y2="334.6" stroke="#444" stroke-width="0.5"/>
<text x="397.7" y="336.1" font-size="4.6" text-anchor="end" fill="#262626">0.95</text>
<line x1="400.8" y1="344.486" x2="402.4" y2="344.486" stroke="#444" stroke-width="0.5"/>
<text x="397.7" y="345.986" font-size="4.6" text-anchor="end" fill="#262626">0.85</text>
<line x1="400.8" y1="354.371" x2="402.4" y2="354.371" stroke="#444" stroke-width="0.5"/>
<text x="397.7" y="355.871" font-size="4.6" text-anchor="end" fill="#262626">0.75</text>
<line x1="400.8" y1="364.257" x2="402.4" y2="364.257" stroke="#444" stroke-width="0.5"/>
<text x="397.7" y="365.757" font-size="4.6" text-anchor="end" fill="#262626">0.65</text>
<line x1="400.8" y1="374.143" x2="402.4" y2="374.143" stroke="#444" stroke-width="0.5"/>
<text x="397.7" y="375.643" font-size="4.6" text-anchor="end" fill="#262626">0.55</text>
<line x1="400.8" y1="384.029" x2="402.4" y2="384.029" stroke="#444" stroke-width="0.5"/>
<text x="397.7" y="385.529" font-size="4.6" text-anchor="end" fill="#262626">0.45</text>
<line x1="400.8" y1="393.914" x2="402.4" y2="393.914" stroke="#444" stroke-width="0.5"/>
<text x="397.7" y="395.414" font-size="4.6" text-anchor="end" fill="#262626">0.35</text>
<line x1="400.8" y1="403.8" x2="402.4" y2="403.8" stroke="#444" stroke-width="0.5"/>
<text x="397.7" y="405.3" font-size="4.6" text-anchor="end" fill="#262626">0.25</text>
<line x1="412.5" y1="403.8" x2="412.5" y2="405.4" stroke="#444" stroke-width="0.5"/>
<text x="412.5" y="411" font-size="4.6" text-anchor="middle" fill="#262626">8</text>
<line x1="433.3" y1="403.8" x2="433.3" y2="405.4" stroke="#444" stroke-width="0.5"/>
<text x="433.3" y="411" font-size="4.6" text-anchor="middle" fill="#262626">11</text>
<line x1="454" y1="403.8" x2="454" y2="405.4" stroke="#444" stroke-width="0.5"/>
<text x="454" y="411" font-size="4.6" text-anchor="middle" fill="#262626">14</text>
<line x1="474.8" y1="403.8" x2="474.8" y2="405.4" stroke="#444" stroke-width="0.5"/>
<text x="474.8" y="411" font-size="4.6" text-anchor="middle" fill="#262626">17</text>
<line x1="495.5" y1="403.8" x2="495.5" y2="405.4" stroke="#444" stroke-width="0.5"/>
<text x="495.5" y="411" font-size="4.6" text-anchor="middle" fill="#262626">20</text>
<text x="454.5" y="419.1" font-size="5.2" font-weight="bold" text-anchor="middle" stroke="#222" stroke-width="0.12">Leaf age (days)</text>
<text transform="translate(383.2,372.2) rotate(-90)" font-size="5.3" font-weight="bold" text-anchor="middle" stroke="#222" stroke-width="0.1">F440/F680</text>
<line x1="413" y1="328.3" x2="428" y2="328.3" stroke="#222" stroke-width="0.6"/>
<circle cx="420.5" cy="328.3" r="1.5" fill="#111"/>
<text x="429.5" y="329.8" font-size="4.7" fill="#222">Control</text>
<line x1="454" y1="328.3" x2="469.5" y2="328.3" stroke="#222" stroke-width="0.6" stroke-dasharray="1.6,1.4"/>
<rect x="460.3" y="326.8" width="3" height="3" fill="#111"/>
<text x="471.5" y="329.8" font-size="4.7" fill="#222">Inoculated</text>
<path d="M412.5 360.4V363.2M411.5 360.4h2M411.5 363.2h2" stroke="#555" stroke-width="0.45" fill="none"/>
<path d="M433.3 363.2V366M432.3 363.2h2M432.3 366h2" stroke="#555" stroke-width="0.45" fill="none"/>
<path d="M454 369.4V372.2M453 369.4h2M453 372.2h2" stroke="#555" stroke-width="0.45" fill="none"/>
<path d="M474.8 382.6V389.8M473.8 382.6h2M473.8 389.8h2" stroke="#555" stroke-width="0.45" fill="none"/>
<path d="M495.5 396.6V399.8M494.5 396.6h2M494.5 399.8h2" stroke="#555" stroke-width="0.45" fill="none"/>
<path d="M412.5 365.4V368.2M411.5 365.4h2M411.5 368.2h2" stroke="#555" stroke-width="0.45" fill="none"/>
<path d="M433.3 366.7V369.9M432.3 366.7h2M432.3 369.9h2" stroke="#555" stroke-width="0.45" fill="none"/>
<path d="M454 376V380M453 376h2M453 380h2" stroke="#555" stroke-width="0.45" fill="none"/>
<path d="M474.8 367.7V381.3M473.8 367.7h2M473.8 381.3h2" stroke="#555" stroke-width="0.45" fill="none"/>
<path d="M495.5 383.4V394.6M494.5 383.4h2M494.5 394.6h2" stroke="#555" stroke-width="0.45" fill="none"/>
<polyline points="412.5,361.8 433.3,364.6 454,370.8 474.8,386.2 495.5,398.2" fill="none" stroke="#1c1c1c" stroke-width="0.85"/>
<polyline points="412.5,366.8 433.3,368.3 454,378 474.8,374.5 495.5,389" fill="none" stroke="#1c1c1c" stroke-width="0.85" stroke-dasharray="2.4,1.7"/>
<circle cx="412.5" cy="361.8" r="2.2" fill="#0c0c0c"/>
<circle cx="433.3" cy="364.6" r="2.2" fill="#0c0c0c"/>
<circle cx="454" cy="370.8" r="2.2" fill="#0c0c0c"/>
<circle cx="474.8" cy="386.2" r="2.2" fill="#0c0c0c"/>
<circle cx="495.5" cy="398.2" r="2.2" fill="#0c0c0c"/>
<rect x="410.3" y="364.6" width="4.4" height="4.4" fill="#0c0c0c"/>
<rect x="431.1" y="366.1" width="4.4" height="4.4" fill="#0c0c0c"/>
<rect x="451.8" y="375.8" width="4.4" height="4.4" fill="#0c0c0c"/>
<rect x="472.6" y="372.3" width="4.4" height="4.4" fill="#0c0c0c"/>
<rect x="493.3" y="386.8" width="4.4" height="4.4" fill="#0c0c0c"/>
<text transform="translate(412.3,357) rotate(-57)" font-size="4.7" fill="#303030">P= 0.0219</text>
<text transform="translate(433.5,359.5) rotate(-57)" font-size="4.7" fill="#303030">P= 0.0311</text>
<text transform="translate(452.5,366) rotate(-57)" font-size="4.7" fill="#303030">P= 0.0120</text>
</g>
<g font-family="Liberation Sans" font-weight="bold" fill="#222" opacity="0.995">
<text x="536" y="18.6" font-size="5.2" text-anchor="middle">Control</text>
<text x="598.8" y="18.6" font-size="5.3" text-anchor="middle">Inoculated</text>
<rect x="510" y="21.8" width="55" height="67.8" fill="#020202"/>
<rect x="567.3" y="21.8" width="55" height="67.8" fill="#020202"/>
<rect x="624.3" y="21.8" width="4.8" height="67.8" fill="url(#jet2)"/>
<text x="632.3" y="27.4" font-size="4.4">276</text>
<text x="632.3" y="88" font-size="4.4">186</text>
</g>
<g font-family="Liberation Sans" font-weight="bold" fill="#222" opacity="0.995">
<text x="536" y="122.7" font-size="5.2" text-anchor="middle">Control</text>
<text x="598.8" y="122.7" font-size="5.3" text-anchor="middle">Inoculated</text>
<rect x="510" y="125.9" width="55" height="68.3" fill="#060606"/>
<rect x="567.3" y="125.9" width="55" height="68.3" fill="#050505"/>
<rect x="624.3" y="125.9" width="4.8" height="68.3" fill="url(#jet2)"/>
<text x="632.3" y="131.5" font-size="4.4">580</text>
<text x="632.3" y="192.6" font-size="4.4">220</text>
</g>
<g font-family="Liberation Sans" font-weight="bold" fill="#222" opacity="0.995">
<text x="536" y="227.2" font-size="5.2" text-anchor="middle">Control</text>
<text x="598.8" y="227.2" font-size="5.3" text-anchor="middle">Inoculated</text>
<rect x="510" y="230.4" width="55" height="68" fill="#2b2b2b"/>
<rect x="567.3" y="230.4" width="55" height="68" fill="#2d2d2d"/>
<rect x="624.3" y="230.4" width="4.8" height="68" fill="url(#jet2)"/>
<text x="632.3" y="236" font-size="4.4">0.65</text>
<text x="632.3" y="296.8" font-size="4.4">0.45</text>
</g>
<g font-family="Liberation Sans" font-weight="bold" fill="#222" opacity="0.995">
<text x="536" y="331" font-size="5.2" text-anchor="middle">Control</text>
<text x="598.8" y="331" font-size="5.3" text-anchor="middle">Inoculated</text>
<rect x="510" y="334.2" width="55" height="69" fill="#171717"/>
<rect x="567.3" y="334.2" width="55" height="69" fill="#1b1b1b"/>
<rect x="624.3" y="334.2" width="4.8" height="69" fill="url(#jet2)"/>
<text x="632.3" y="337.4" font-size="4.4">0.90</text>
<text x="632.3" y="399.68" font-size="4.4">0.20</text>
</g>
<g clip-path="url(#bx25)"><g transform="translate(538.6,56.2) rotate(-41.83)" filter="url(#b05)"><g clip-path="url(#cp22)" ><rect x="-2" y="-7.9" width="37.2848" height="15.8" fill="#34f000"/><rect x="19.9709" y="-7.9" width="16.3139" height="15.8" fill="url(#lg21)"/><rect x="13.3139" y="-6.9" width="14.9782" height="2.77" fill="#a8f000" filter="url(#b1)" opacity="1"/><ellipse cx="19.9709" cy="0.59" rx="0.7" ry="0.7" fill="#ff1000" filter="url(#b05)" opacity="1"/><ellipse cx="13.3139" cy="2.95" rx="0.6" ry="0.6" fill="#ff1000" filter="url(#b05)" opacity="1"/><ellipse cx="23.9651" cy="-1.77" rx="0.6" ry="0.6" fill="#c00000" filter="url(#b05)" opacity="1"/></g></g><g transform="translate(537.6,57.4) rotate(138.16)" filter="url(#b05)"><g clip-path="url(#cp24)" ><rect x="-2" y="-8.3" width="32.1858" height="16.6" fill="#34f000"/><rect x="17.4752" y="-8.3" width="13.7106" height="16.6" fill="url(#lg23)"/><rect x="12.6836" y="4.41" width="15.5022" height="2.89" fill="#f4f000" filter="url(#b1)" opacity="1"/><ellipse cx="15.5022" cy="-1.89" rx="0.6" ry="0.6" fill="#ff1000" filter="url(#b05)" opacity="1"/></g></g><ellipse cx="538.2" cy="56.7" rx="2.2" ry="1.1" fill="#40e0c0" transform="rotate(20 538.2 56.7)" filter="url(#b05)"/></g><g clip-path="url(#bx32)"><g transform="translate(593.2,52.6) rotate(-46.34)" filter="url(#b05)"><g clip-path="url(#cp27)" ><rect x="-2" y="-10" width="40.2138" height="20" fill="#26f060"/><rect x="1.81069" y="-9" width="30.7817" height="5" fill="#20f098" filter="url(#b1)" opacity="0.9"/><rect x="23.539" y="-10" width="15.6748" height="20" fill="url(#lg26)"/></g></g><g transform="translate(591.8,54) rotate(127.91)" filter="url(#b05)"><g clip-path="url(#cp29)" ><rect x="-2" y="-8.9" width="37.2054" height="17.8" fill="#30f020"/><rect x="22.5797" y="-8.9" width="13.6257" height="17.8" fill="url(#lg28)"/><rect x="16.6027" y="4.83" width="16.6027" height="3.07" fill="#90f400" filter="url(#b1)" opacity="1"/></g></g><g transform="translate(592.8,53.4) rotate(-118.07)" filter="url(#b05)"><g clip-path="url(#cp30)" ><rect x="-2" y="-3.5" width="14.2" height="7" fill="#1468f0"/><rect x="1.02" y="0.9" width="9.18" height="1.6" fill="#18c8f8" filter="url(#b1)" opacity="1"/></g></g><g transform="translate(592.6,53.2) rotate(62.30)" filter="url(#b05)"><g clip-path="url(#cp31)" ><rect x="-2" y="-3.5" width="13.0355" height="7" fill="#1468f0"/><rect x="0.903549" y="-2.5" width="8.13194" height="1.6" fill="#18c8f8" filter="url(#b1)" opacity="1"/></g></g></g><g clip-path="url(#bx37)"><ellipse cx="528.6" cy="150" rx="5.2" ry="9.6" fill="#292929" transform="rotate(-32 528.6 150)" filter="url(#b07)"/><ellipse cx="542.8" cy="171.4" rx="5.2" ry="9.6" fill="#272727" transform="rotate(-32 542.8 171.4)" filter="url(#b07)"/><ellipse cx="549" cy="131" rx="1.2" ry="3" fill="#3a3a3a" transform="rotate(20 549 131)" filter="url(#b05)"/><g transform="translate(536.4,160.6) rotate(-54.90)" filter="url(#b05)"><g clip-path="url(#cp34)" ><rect x="-2" y="-8.5" width="37.736" height="17" fill="#f84410"/><rect x="1.6868" y="3.575" width="32.0492" height="3.925" fill="#ff8800" filter="url(#b1)" opacity="1"/><rect x="3.3736" y="-7.5" width="30.3624" height="2.95" fill="#ff7800" filter="url(#b1)" opacity="1"/><rect x="6.74721" y="-1.43" width="21.9284" height="2.86" fill="#ee2000" filter="url(#b1)" opacity="1"/><rect x="27.6635" y="-8.5" width="9.07249" height="17" fill="url(#lg33)"/></g></g><g transform="translate(535.4,162.2) rotate(129.56)" filter="url(#b05)"><g clip-path="url(#cp36)" ><rect x="-2" y="-8.8" width="33.8329" height="17.6" fill="#ff8a00"/><ellipse cx="7.45822" cy="0" rx="4.5" ry="3.2" fill="#ffd000" filter="url(#b1)" opacity="1"/><rect x="8.94986" y="4.08" width="20.883" height="3.72" fill="#ff5000" filter="url(#b1)" opacity="1"/><rect x="17.8997" y="-8.8" width="14.9331" height="17.6" fill="url(#lg35)"/></g></g><ellipse cx="535.9" cy="161.3" rx="2.4" ry="1.5" fill="#20e830" transform="rotate(30 535.9 161.3)" filter="url(#b05)"/></g><g clip-path="url(#bx44)"><ellipse cx="587" cy="141" rx="4" ry="6" fill="#181818" filter="url(#b1)"/><ellipse cx="612" cy="172" rx="2" ry="4" fill="#1a1a1a" filter="url(#b1)"/><g transform="translate(594.8,156.6) rotate(-45.26)" filter="url(#b05)"><g clip-path="url(#cp39)" ><rect x="-2" y="-9" width="35.5373" height="18" fill="#ffd000"/><ellipse cx="12.6149" cy="0" rx="6" ry="3.4" fill="#ffe400" filter="url(#b1)" opacity="1"/><rect x="6.30746" y="4.9" width="25.2298" height="3.1" fill="#ffa800" filter="url(#b1)" opacity="0.9"/><rect x="22.0761" y="-9" width="12.4612" height="18" fill="url(#lg38)"/></g></g><g transform="translate(593.6,158) rotate(125.89)" filter="url(#b05)"><g clip-path="url(#cp41)" ><rect x="-2" y="-8.9" width="34.3645" height="17.8" fill="#ffaa00"/><ellipse cx="9.10934" cy="-1.38" rx="4" ry="3" fill="#ffc400" filter="url(#b1)" opacity="1"/><rect x="18.2187" y="-8.9" width="15.1458" height="17.8" fill="url(#lg40)"/></g></g><g transform="translate(594.8,157.4) rotate(-117.18)" filter="url(#b05)"><g clip-path="url(#cp42)" ><rect x="-2" y="-3.6" width="12.3187" height="7.2" fill="#20d8e0"/><rect x="0.831865" y="0.8" width="7.48679" height="1.8" fill="#30f040" filter="url(#b1)" opacity="1"/></g></g><g transform="translate(594.4,157) rotate(60.95)" filter="url(#b05)"><g clip-path="url(#cp43)" ><rect x="-2" y="-3.6" width="12.2365" height="7.2" fill="#20d8e0"/><rect x="0.82365" y="-2.6" width="7.41285" height="1.8" fill="#30f040" filter="url(#b1)" opacity="1"/></g></g></g><g clip-path="url(#bx48)"><g transform="translate(538,266) rotate(-65.64)" filter="url(#b07)"><g clip-path="url(#cp45)" ><rect x="-2" y="-9.6" width="36.4918" height="19.2" fill="#050505"/></g></g><ellipse cx="527" cy="283" rx="9" ry="6" fill="#070707" transform="rotate(-35 527 283)" filter="url(#b1)"/><ellipse cx="533" cy="293" rx="4" ry="5" fill="#0c0c0c" filter="url(#b1)"/><g filter="url(#b05)"><g clip-path="url(#cp46)" ><path d="M512.3 250.4L519.5 250.2Q528 253.5 535.6 260.5L537.4 268L534.3 271.6Q529 272.6 522.2 266.6Q516.5 260.5 512.3 250.4Z" fill="#1a7cff"/><ellipse cx="520" cy="256" rx="9" ry="7" fill="#28c8f8" transform="rotate(35 520 256)" filter="url(#b2)"/><ellipse cx="532" cy="267" rx="4" ry="3.5" fill="#0c3cf0" transform="rotate(35 532 267)" filter="url(#b1)"/><ellipse cx="525" cy="266.5" rx="5" ry="2.2" fill="#1050f4" transform="rotate(40 525 266.5)" filter="url(#b1)" opacity="0.9"/><polyline points="513.5,251.5 524,258.5 535,268" fill="none" stroke="#60e0f8" stroke-width="1" stroke-linecap="round" stroke-linejoin="round" filter="url(#b05)" opacity="0.8"/></g></g><g filter="url(#b05)"><g clip-path="url(#cp47)" ><path d="M536.6 269L542.7 265.5Q551 271.5 557.2 281.7Q559.4 286 559.7 291.9L552.6 291.9Q545.5 287.5 539.4 277.1Z" fill="#1874fc"/><ellipse cx="551" cy="276" rx="4.5" ry="11" fill="#20c8f0" transform="rotate(-38 551 276)" filter="url(#b2)"/><ellipse cx="555.5" cy="288" rx="5" ry="5.5" fill="#28f0a0" filter="url(#b1)"/><ellipse cx="557.5" cy="290.5" rx="2.4" ry="2.4" fill="#50f860" filter="url(#b1)"/><ellipse cx="545.5" cy="283" rx="2.2" ry="5.5" fill="#1048f0" transform="rotate(-35 545.5 283)" filter="url(#b1)" opacity="0.9"/></g></g><circle cx="539.4" cy="271.8" r="4.6" fill="#20e880" filter="url(#b1)"/><circle cx="537.8" cy="270.6" r="2.9" fill="#e8f000" filter="url(#b07)"/><circle cx="536.4" cy="269.8" r="1.8" fill="#f01000" filter="url(#b05)"/></g><g clip-path="url(#bx53)"><path d="M567 264L582 274L592 290L592 299L567 299Z" fill="#1b1b1b" filter="url(#b1)"/><g transform="translate(596,268) rotate(-55.41)" filter="url(#b07)"><g clip-path="url(#cp49)" ><rect x="-2" y="-7.4" width="25.1367" height="14.8" fill="#0b0b0b"/></g></g><g filter="url(#b05)"><g clip-path="url(#cp50)" ><path d="M575.3 245L580.7 247.2Q587 254.5 593.2 265L594.6 270.3L590 272.2Q582 265.5 576 255.8Q574.8 250 575.3 245Z" fill="#0c40f4"/><ellipse cx="578.5" cy="249.5" rx="3.5" ry="5" fill="#38c0ff" transform="rotate(-30 578.5 249.5)" filter="url(#b1)"/><ellipse cx="576.6" cy="247" rx="1.6" ry="2" fill="#40f0c0" filter="url(#b05)"/><polyline points="576.5,247 584,256 593,268" fill="none" stroke="#3080ff" stroke-width="1.2" stroke-linecap="round" stroke-linejoin="round" filter="url(#b05)" opacity="0.9"/></g></g><g filter="url(#b05)"><g clip-path="url(#cp51)" ><path d="M594.6 270L599.7 270.5Q608 276.5 615.2 285.7Q609 285.7 605 282.8Q600 279.2 596.4 275.2Z" fill="#0828d8"/><polyline points="596,271.5 606,279.5 614,285" fill="none" stroke="#1858f8" stroke-width="1.2" stroke-linecap="round" stroke-linejoin="round" filter="url(#b05)" opacity="0.9"/><ellipse cx="612" cy="284.6" rx="1.4" ry="0.9" fill="#c0d0ff" transform="rotate(30 612 284.6)" filter="url(#b05)"/></g></g><g transform="translate(594.4,271) rotate(97.35)" filter="url(#b05)"><g clip-path="url(#cp52)" ><rect x="-2" y="-3.4" width="16.5028" height="6.8" fill="#0838e0"/></g></g><circle cx="594.4" cy="270.3" r="4.6" fill="#18c8f0" filter="url(#b1)"/><circle cx="594.4" cy="270.3" r="3.2" fill="#60f020" filter="url(#b07)"/><circle cx="594.4" cy="270.3" r="2.1" fill="#f0d000" filter="url(#b05)"/><circle cx="594.4" cy="270.3" r="1.3" fill="#f01000" filter="url(#b05)"/></g><g clip-path="url(#bx57)"><ellipse cx="520" cy="353" rx="8" ry="4.5" fill="#0b0b0b" transform="rotate(30 520 353)" filter="url(#b1)"/><circle cx="553.4" cy="368.2" r="6.6" fill="#020202" filter="url(#b07)"/><g transform="translate(539.2,366) rotate(-54.42)" filter="url(#b05)"><g clip-path="url(#cp54)" ><rect x="-2" y="-8.8" width="35.9681" height="17.6" fill="#ffc000"/><rect x="0" y="-3.4" width="25.5745" height="6.8" fill="#f0f000" filter="url(#b1)" opacity="1"/><rect x="0" y="-2.04" width="24.9351" height="4.08" fill="#50f020" filter="url(#b1)" opacity="1"/><rect x="0" y="-1.088" width="7.99203" height="2.176" fill="#10c8c0" filter="url(#b05)" opacity="1"/><rect x="3.19681" y="-7.8" width="28.7713" height="3.04" fill="#ff9000" filter="url(#b07)" opacity="0.9"/><rect x="9.59043" y="5.44" width="22.3777" height="2.36" fill="#ffa800" filter="url(#b07)" opacity="0.8"/></g></g><g transform="translate(538.4,367.4) rotate(117.72)" filter="url(#b05)"><g clip-path="url(#cp55)" ><rect x="-2" y="-9.2" width="34.9535" height="18.4" fill="#ffc000"/><rect x="0" y="-3.6" width="24.7628" height="7.2" fill="#f0f000" filter="url(#b1)" opacity="1"/><rect x="0" y="-2.16" width="24.1437" height="4.32" fill="#50f020" filter="url(#b1)" opacity="1"/><rect x="0" y="-1.152" width="7.73838" height="2.304" fill="#10c8c0" filter="url(#b05)" opacity="1"/><rect x="3.09535" y="5.04" width="27.8582" height="3.16" fill="#ff8000" filter="url(#b07)" opacity="0.9"/><rect x="9.28605" y="-8.2" width="21.6675" height="2.44" fill="#ffa800" filter="url(#b07)" opacity="0.8"/></g></g><g transform="translate(538.6,365) rotate(-100.22)" filter="url(#b05)"><g clip-path="url(#cp56)" ><rect x="-2" y="-3.8" width="16.3968" height="7.6" fill="#ffa000"/></g></g><circle cx="538.9" cy="366.7" r="3.6" fill="#18d060" filter="url(#b07)"/><circle cx="538.9" cy="366.7" r="2.5" fill="#0828d0" filter="url(#b05)"/></g><g clip-path="url(#bx62)"><g transform="translate(595,370) rotate(-45.35)" filter="url(#b1)"><g clip-path="url(#cp58)" ><rect x="-2" y="-9" width="27.335" height="18" fill="#101010"/></g></g><g filter="url(#b05)"><g clip-path="url(#cp59)" ><path d="M569.6 349L576.1 351.9Q584 357.4 590.6 366.4L593.2 372L589.8 375.5L585.2 375.5Q577 369.6 571.5 359.1Q569.9 354 569.6 349Z" fill="#38f000"/><polyline points="570,350 577,352.6 584,357.8 590,365.5" fill="none" stroke="#e0f000" stroke-width="2.2" stroke-linecap="round" stroke-linejoin="round" filter="url(#b07)"/><polyline points="570.2,351 572,359 577.5,368.5 585,375" fill="none" stroke="#b8f000" stroke-width="1.6" stroke-linecap="round" stroke-linejoin="round" filter="url(#b07)"/><polyline points="571,350.5 581,361 591,371" fill="none" stroke="#a0f800" stroke-width="0.9" stroke-linecap="round" stroke-linejoin="round" filter="url(#b05)" opacity="0.8"/></g></g><g filter="url(#b05)"><g clip-path="url(#cp60)" ><path d="M593.6 372.4L597.4 371.5Q607 376 614.2 382.3L619 387.5Q615 388.8 611.1 388.3Q602.5 386.2 596.4 379.6Z" fill="#38f000"/><ellipse cx="616" cy="386.5" rx="4" ry="2.4" fill="#f0f000" transform="rotate(35 616 386.5)" filter="url(#b1)"/><polyline points="598,372 607,376.4 614,382.5" fill="none" stroke="#b0f000" stroke-width="1.4" stroke-linecap="round" stroke-linejoin="round" filter="url(#b07)"/><polyline points="596,373.5 606,380.5 617,387" fill="none" stroke="#a0f800" stroke-width="0.9" stroke-linecap="round" stroke-linejoin="round" filter="url(#b05)" opacity="0.8"/></g></g><g transform="translate(593,374) rotate(95.10)" filter="url(#b05)"><g clip-path="url(#cp61)" ><rect x="-2" y="-4.4" width="15.2446" height="8.8" fill="#c8f000"/><rect x="0.562228" y="-0.72" width="9.55787" height="1.44" fill="#40f000" filter="url(#b1)" opacity="1"/></g></g><circle cx="593.1" cy="372.3" r="3.6" fill="#10c0a0" filter="url(#b07)"/><circle cx="593.1" cy="372.3" r="2.5" fill="#0820c0" filter="url(#b05)"/></g>
<text x="16.4 29.9 43.4 56.9 70.4 83.9 97.4 110.9 124.4 137.9 151.4 164.9 178.4 191.9 205.4 218.9 232.4 245.9" y="442.9" font-size="13.1" fill="#1a1a1a" style="font-family:'Liberation Serif','Noto Serif CJK SC',serif">向日葵根部列当寄生多光谱荧光早期检测</text>
<text x="254.4" y="442.9" font-size="13.1" fill="#1a1a1a" style="font-family:'Liberation Serif','Noto Serif CJK SC',serif">（</text>
<text x="270.3 283.7" y="442.9" font-size="13.1" fill="#1a1a1a" style="font-family:'Liberation Serif','Noto Serif CJK SC',serif">引自</text>
<g font-size="13.9" fill="#1a1a1a" class="sf" opacity="0.995">
<text x="301.4" y="443.1" textLength="130.2" lengthAdjust="spacingAndGlyphs">Carmen M. Ortiz-Bustos</text>
<text x="463.3" y="443.1" textLength="169.2" lengthAdjust="spacingAndGlyphs">Frontiers in Plant Science, 2016</text>
</g>
<text x="434.7" y="442.9" font-size="13.1" fill="#1a1a1a" style="font-family:'Liberation Serif','Noto Serif CJK SC',serif">等</text>
<text x="448.7" y="442.9" font-size="13.1" fill="#1a1a1a" style="font-family:'Liberation Serif','Noto Serif CJK SC',serif">，</text>
<text x="635" y="442.9" font-size="13.1" fill="#1a1a1a" style="font-family:'Liberation Serif','Noto Serif CJK SC',serif">）</text>
</svg>
</body></html>
